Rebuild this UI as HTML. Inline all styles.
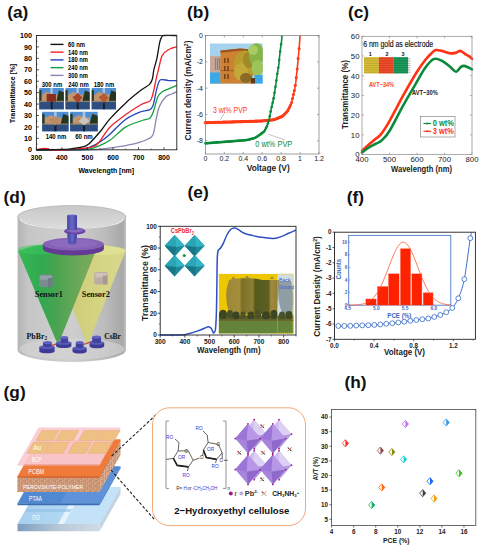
<!DOCTYPE html>
<html><head><meta charset="utf-8"><style>
html,body{margin:0;padding:0;background:#fff;width:480px;height:550px;overflow:hidden;}
svg{display:block;font-family:"Liberation Sans",sans-serif;}
</style></head><body>
<svg width="480" height="550" viewBox="0 0 480 550">
<rect width="480" height="550" fill="#fff"/>
<path d="M36.40,149.80 C40.66,149.80 53.42,149.80 61.93,149.80 C70.44,149.80 81.50,149.86 87.46,149.80 C93.42,149.74 93.93,149.76 97.67,149.46 C101.42,149.15 105.29,148.60 109.93,147.97 C114.56,147.34 120.35,146.69 125.50,145.69 C130.65,144.68 136.56,143.32 140.82,141.91 C145.07,140.50 148.86,138.90 151.03,137.23 C153.20,135.55 152.94,135.07 153.84,131.85 C154.73,128.64 155.45,122.16 156.39,117.91 C157.33,113.66 157.92,109.85 159.45,106.37 C160.99,102.88 163.54,99.05 165.58,96.99 C167.62,94.94 169.84,94.92 171.71,94.02 C173.58,93.13 175.96,92.02 176.82,91.62" stroke="#8888b0" stroke-width="1.3" fill="none" stroke-linejoin="round"/>
<path d="M36.40,149.80 C42.78,149.80 66.18,149.86 74.69,149.80 C83.20,149.74 83.63,150.03 87.46,149.46 C91.29,148.89 93.93,147.90 97.67,146.37 C101.42,144.85 105.29,143.51 109.93,140.31 C114.56,137.11 120.35,130.39 125.50,127.17 C130.65,123.95 136.73,122.54 140.82,121.00 C144.90,119.45 147.84,119.70 150.01,117.91 C152.18,116.12 152.56,113.74 153.84,110.25 C155.11,106.77 156.22,100.12 157.67,96.99 C159.11,93.87 160.60,92.90 162.52,91.51 C164.43,90.12 166.77,89.66 169.16,88.65 C171.54,87.64 175.54,85.98 176.82,85.45" stroke="#12a03c" stroke-width="1.3" fill="none" stroke-linejoin="round"/>
<path d="M36.40,149.80 C42.78,149.80 66.61,149.95 74.69,149.80 C82.78,149.65 81.93,149.55 84.91,148.89 C87.89,148.22 90.01,146.98 92.57,145.80 C95.12,144.62 97.33,143.74 100.23,141.80 C103.12,139.86 105.71,137.86 109.93,134.14 C114.14,130.43 120.35,123.24 125.50,119.51 C130.65,115.78 136.86,113.34 140.82,111.74 C144.77,110.14 147.20,110.96 149.24,109.91 C151.29,108.86 151.88,108.71 153.07,105.45 C154.26,102.19 155.33,94.48 156.39,90.36 C157.45,86.25 158.43,82.55 159.45,80.76 C160.48,78.97 160.99,79.66 162.52,79.62 C164.05,79.58 166.26,80.38 168.65,80.53 C171.03,80.69 175.45,80.53 176.82,80.53" stroke="#2346b8" stroke-width="1.3" fill="none" stroke-linejoin="round"/>
<path d="M36.40,149.80 C37.25,149.61 39.59,148.85 41.51,148.66 C43.42,148.47 46.40,148.47 47.89,148.66 C49.38,148.85 47.25,149.61 50.44,149.80 C53.63,149.99 62.14,149.99 67.04,149.80 C71.93,149.61 75.38,149.21 79.80,148.66 C84.23,148.10 90.18,147.82 93.59,146.49 C96.99,145.15 97.50,143.88 100.23,140.66 C102.95,137.44 105.71,131.47 109.93,127.17 C114.14,122.86 120.35,118.56 125.50,114.82 C130.65,111.09 136.73,107.09 140.82,104.77 C144.90,102.44 147.97,102.80 150.01,100.88 C152.05,98.96 152.01,97.07 153.07,93.22 C154.14,89.37 155.50,81.70 156.39,77.79 C157.28,73.89 157.45,73.52 158.43,69.79 C159.41,66.06 160.43,58.82 162.26,55.39 C164.09,51.96 166.99,50.66 169.41,49.22 C171.84,47.77 175.58,47.12 176.82,46.70" stroke="#f0202a" stroke-width="1.3" fill="none" stroke-linejoin="round"/>
<path d="M36.40,149.80 C40.66,149.74 55.97,149.65 61.93,149.46 C67.89,149.27 68.74,149.08 72.14,148.66 C75.55,148.24 79.59,147.70 82.35,146.94 C85.12,146.18 85.76,146.66 88.74,144.09 C91.72,141.51 96.69,135.70 100.23,131.51 C103.76,127.32 105.71,123.66 109.93,118.94 C114.14,114.21 120.35,107.93 125.50,103.17 C130.65,98.40 136.86,93.45 140.82,90.36 C144.77,87.28 147.33,86.50 149.24,84.65 C151.16,82.80 151.54,81.75 152.31,79.28 C153.07,76.80 153.07,73.28 153.84,69.79 C154.60,66.30 155.92,62.93 156.90,58.36 C157.88,53.79 158.86,46.02 159.71,42.36 C160.56,38.70 161.28,37.56 162.01,36.41 C162.73,35.27 161.58,35.65 164.05,35.50 C166.52,35.35 174.69,35.50 176.82,35.50" stroke="#111111" stroke-width="1.3" fill="none" stroke-linejoin="round"/>
<rect x="36.40" y="35.50" width="140.40" height="114.30" fill="none" stroke="#222" stroke-width="0.9" />
<line x1="36.40" y1="149.80" x2="38.90" y2="149.80" stroke="#222" stroke-width="0.8" />
<text x="32.10" y="152.40" font-size="7.2" font-weight="bold" fill="#000" text-anchor="end" font-family="Liberation Sans" >0</text>
<line x1="36.40" y1="138.37" x2="38.90" y2="138.37" stroke="#222" stroke-width="0.8" />
<text x="32.10" y="140.97" font-size="7.2" font-weight="bold" fill="#000" text-anchor="end" font-family="Liberation Sans" >10</text>
<line x1="36.40" y1="126.94" x2="38.90" y2="126.94" stroke="#222" stroke-width="0.8" />
<text x="32.10" y="129.54" font-size="7.2" font-weight="bold" fill="#000" text-anchor="end" font-family="Liberation Sans" >20</text>
<line x1="36.40" y1="115.51" x2="38.90" y2="115.51" stroke="#222" stroke-width="0.8" />
<text x="32.10" y="118.11" font-size="7.2" font-weight="bold" fill="#000" text-anchor="end" font-family="Liberation Sans" >30</text>
<line x1="36.40" y1="104.08" x2="38.90" y2="104.08" stroke="#222" stroke-width="0.8" />
<text x="32.10" y="106.68" font-size="7.2" font-weight="bold" fill="#000" text-anchor="end" font-family="Liberation Sans" >40</text>
<line x1="36.40" y1="92.65" x2="38.90" y2="92.65" stroke="#222" stroke-width="0.8" />
<text x="32.10" y="95.25" font-size="7.2" font-weight="bold" fill="#000" text-anchor="end" font-family="Liberation Sans" >50</text>
<line x1="36.40" y1="81.22" x2="38.90" y2="81.22" stroke="#222" stroke-width="0.8" />
<text x="32.10" y="83.82" font-size="7.2" font-weight="bold" fill="#000" text-anchor="end" font-family="Liberation Sans" >60</text>
<line x1="36.40" y1="69.79" x2="38.90" y2="69.79" stroke="#222" stroke-width="0.8" />
<text x="32.10" y="72.39" font-size="7.2" font-weight="bold" fill="#000" text-anchor="end" font-family="Liberation Sans" >70</text>
<line x1="36.40" y1="58.36" x2="38.90" y2="58.36" stroke="#222" stroke-width="0.8" />
<text x="32.10" y="60.96" font-size="7.2" font-weight="bold" fill="#000" text-anchor="end" font-family="Liberation Sans" >80</text>
<line x1="36.40" y1="46.93" x2="38.90" y2="46.93" stroke="#222" stroke-width="0.8" />
<text x="32.10" y="49.53" font-size="7.2" font-weight="bold" fill="#000" text-anchor="end" font-family="Liberation Sans" >90</text>
<line x1="36.40" y1="35.50" x2="38.90" y2="35.50" stroke="#222" stroke-width="0.8" />
<text x="32.10" y="38.10" font-size="7.2" font-weight="bold" fill="#000" text-anchor="end" font-family="Liberation Sans" >100</text>
<line x1="36.40" y1="144.09" x2="37.70" y2="144.09" stroke="#222" stroke-width="0.6" />
<line x1="36.40" y1="132.66" x2="37.70" y2="132.66" stroke="#222" stroke-width="0.6" />
<line x1="36.40" y1="121.23" x2="37.70" y2="121.23" stroke="#222" stroke-width="0.6" />
<line x1="36.40" y1="109.80" x2="37.70" y2="109.80" stroke="#222" stroke-width="0.6" />
<line x1="36.40" y1="98.37" x2="37.70" y2="98.37" stroke="#222" stroke-width="0.6" />
<line x1="36.40" y1="86.94" x2="37.70" y2="86.94" stroke="#222" stroke-width="0.6" />
<line x1="36.40" y1="75.50" x2="37.70" y2="75.50" stroke="#222" stroke-width="0.6" />
<line x1="36.40" y1="64.08" x2="37.70" y2="64.08" stroke="#222" stroke-width="0.6" />
<line x1="36.40" y1="52.64" x2="37.70" y2="52.64" stroke="#222" stroke-width="0.6" />
<line x1="36.40" y1="41.21" x2="37.70" y2="41.21" stroke="#222" stroke-width="0.6" />
<line x1="36.40" y1="149.80" x2="36.40" y2="147.30" stroke="#222" stroke-width="0.8" />
<text x="36.40" y="159.80" font-size="7" font-weight="bold" fill="#000" text-anchor="middle" font-family="Liberation Sans" >300</text>
<line x1="61.93" y1="149.80" x2="61.93" y2="147.30" stroke="#222" stroke-width="0.8" />
<text x="61.93" y="159.80" font-size="7" font-weight="bold" fill="#000" text-anchor="middle" font-family="Liberation Sans" >400</text>
<line x1="87.46" y1="149.80" x2="87.46" y2="147.30" stroke="#222" stroke-width="0.8" />
<text x="87.46" y="159.80" font-size="7" font-weight="bold" fill="#000" text-anchor="middle" font-family="Liberation Sans" >500</text>
<line x1="112.99" y1="149.80" x2="112.99" y2="147.30" stroke="#222" stroke-width="0.8" />
<text x="112.99" y="159.80" font-size="7" font-weight="bold" fill="#000" text-anchor="middle" font-family="Liberation Sans" >600</text>
<line x1="138.52" y1="149.80" x2="138.52" y2="147.30" stroke="#222" stroke-width="0.8" />
<text x="138.52" y="159.80" font-size="7" font-weight="bold" fill="#000" text-anchor="middle" font-family="Liberation Sans" >700</text>
<line x1="164.05" y1="149.80" x2="164.05" y2="147.30" stroke="#222" stroke-width="0.8" />
<text x="164.05" y="159.80" font-size="7" font-weight="bold" fill="#000" text-anchor="middle" font-family="Liberation Sans" >800</text>
<line x1="49.16" y1="149.80" x2="49.16" y2="148.50" stroke="#222" stroke-width="0.6" />
<line x1="74.69" y1="149.80" x2="74.69" y2="148.50" stroke="#222" stroke-width="0.6" />
<line x1="100.23" y1="149.80" x2="100.23" y2="148.50" stroke="#222" stroke-width="0.6" />
<line x1="125.75" y1="149.80" x2="125.75" y2="148.50" stroke="#222" stroke-width="0.6" />
<line x1="151.28" y1="149.80" x2="151.28" y2="148.50" stroke="#222" stroke-width="0.6" />
<line x1="176.82" y1="149.80" x2="176.82" y2="148.50" stroke="#222" stroke-width="0.6" />
<text x="106.35" y="172.90" font-size="7.6" font-weight="bold" fill="#000" text-anchor="middle" font-family="Liberation Sans" textLength="55.5" lengthAdjust="spacingAndGlyphs">Wavelength [nm]</text>
<text x="0.00" y="0.00" font-size="7.6" font-weight="bold" fill="#000" text-anchor="middle" font-family="Liberation Sans" transform="translate(15.2,93.4) rotate(-90)" textLength="59" lengthAdjust="spacingAndGlyphs">Transmittance [%]</text>
<line x1="50.50" y1="44.40" x2="63.50" y2="44.40" stroke="#111" stroke-width="1.4" />
<text x="68.00" y="46.80" font-size="6.9" font-weight="bold" fill="#000" text-anchor="start" font-family="Liberation Sans" textLength="17" lengthAdjust="spacingAndGlyphs">60 nm</text>
<line x1="50.50" y1="52.15" x2="63.50" y2="52.15" stroke="#f0202a" stroke-width="1.4" />
<text x="68.00" y="54.55" font-size="6.9" font-weight="bold" fill="#000" text-anchor="start" font-family="Liberation Sans" textLength="20" lengthAdjust="spacingAndGlyphs">140 nm</text>
<line x1="50.50" y1="59.90" x2="63.50" y2="59.90" stroke="#2346b8" stroke-width="1.4" />
<text x="68.00" y="62.30" font-size="6.9" font-weight="bold" fill="#000" text-anchor="start" font-family="Liberation Sans" textLength="20" lengthAdjust="spacingAndGlyphs">180 nm</text>
<line x1="50.50" y1="67.65" x2="63.50" y2="67.65" stroke="#12a03c" stroke-width="1.4" />
<text x="68.00" y="70.05" font-size="6.9" font-weight="bold" fill="#000" text-anchor="start" font-family="Liberation Sans" textLength="20" lengthAdjust="spacingAndGlyphs">240 nm</text>
<line x1="50.50" y1="75.40" x2="63.50" y2="75.40" stroke="#8888b0" stroke-width="1.4" />
<text x="68.00" y="77.80" font-size="6.9" font-weight="bold" fill="#000" text-anchor="start" font-family="Liberation Sans" textLength="20" lengthAdjust="spacingAndGlyphs">300 nm</text>
<g>
<rect x="39.30" y="88.00" width="24.50" height="21.30" fill="#4f8fd6" stroke="none" stroke-width="1" />
<rect x="39.30" y="101.21" width="24.50" height="8.09" fill="#2d4e80" stroke="none" stroke-width="1" />
<polygon points="41.3,101.6 41.3,95.5 46.6,91.8 52.8,94.4 56.9,94.4 56.9,101.6" fill="#c4956c"/>
<rect x="46.65" y="96.09" width="4.90" height="2.13" fill="#a87650" stroke="none" stroke-width="1" />
<rect x="39.30" y="90.13" width="2.21" height="11.72" fill="#2a3a22" stroke="none" stroke-width="1" />
<polygon points="56.4,101.6 58.9,90.6 63.8,92.3 63.8,101.6" fill="#26361e"/>
<rect x="39.30" y="100.78" width="24.50" height="1.28" fill="#8c8470" stroke="none" stroke-width="1" />
<rect x="50.32" y="88.00" width="2.45" height="9.59" fill="#c8d4e0" stroke="none" stroke-width="1" opacity="0.75"/>
<rect x="50.81" y="98.65" width="1.72" height="10.65" fill="#1a1a1a" stroke="none" stroke-width="1" />
<rect x="46.65" y="93.96" width="9.31" height="7.67" fill="#8a2e20" stroke="none" stroke-width="1" />
</g>
<g>
<rect x="65.50" y="88.00" width="24.20" height="21.30" fill="#4f8fd6" stroke="none" stroke-width="1" />
<rect x="65.50" y="101.21" width="24.20" height="8.09" fill="#2d4e80" stroke="none" stroke-width="1" />
<polygon points="67.4,101.6 67.4,95.5 72.8,91.8 78.8,94.4 82.9,94.4 82.9,101.6" fill="#c4956c"/>
<rect x="72.76" y="96.09" width="4.84" height="2.13" fill="#a87650" stroke="none" stroke-width="1" />
<rect x="65.50" y="90.13" width="2.18" height="11.72" fill="#2a3a22" stroke="none" stroke-width="1" />
<polygon points="82.4,101.6 84.9,90.6 89.7,92.3 89.7,101.6" fill="#26361e"/>
<rect x="65.50" y="100.78" width="24.20" height="1.28" fill="#8c8470" stroke="none" stroke-width="1" />
<rect x="76.39" y="88.00" width="2.42" height="9.59" fill="#c8d4e0" stroke="none" stroke-width="1" opacity="0.75"/>
<rect x="76.87" y="98.65" width="1.69" height="10.65" fill="#1a1a1a" stroke="none" stroke-width="1" />
<polygon points="77.6,92.7 82.4,97.8 77.6,102.9 72.8,97.8" fill="#a8442a"/>
</g>
<g>
<rect x="91.70" y="88.00" width="24.30" height="21.30" fill="#4f8fd6" stroke="none" stroke-width="1" />
<rect x="91.70" y="101.21" width="24.30" height="8.09" fill="#2d4e80" stroke="none" stroke-width="1" />
<polygon points="93.6,101.6 93.6,95.5 99.0,91.8 105.1,94.4 109.2,94.4 109.2,101.6" fill="#c4956c"/>
<rect x="98.99" y="96.09" width="4.86" height="2.13" fill="#a87650" stroke="none" stroke-width="1" />
<rect x="91.70" y="90.13" width="2.19" height="11.72" fill="#2a3a22" stroke="none" stroke-width="1" />
<polygon points="108.7,101.6 111.1,90.6 116.0,92.3 116.0,101.6" fill="#26361e"/>
<rect x="91.70" y="100.78" width="24.30" height="1.28" fill="#8c8470" stroke="none" stroke-width="1" />
<rect x="102.64" y="88.00" width="2.43" height="9.59" fill="#c8d4e0" stroke="none" stroke-width="1" opacity="0.75"/>
<rect x="103.12" y="98.65" width="1.70" height="10.65" fill="#1a1a1a" stroke="none" stroke-width="1" />
<polygon points="103.9,92.7 108.7,97.8 103.9,102.9 99.0,97.8" fill="#b85a30"/>
</g>
<g>
<rect x="42.20" y="111.80" width="26.30" height="19.50" fill="#4f8fd6" stroke="none" stroke-width="1" />
<rect x="42.20" y="123.89" width="26.30" height="7.41" fill="#2d4e80" stroke="none" stroke-width="1" />
<polygon points="44.3,124.3 44.3,118.6 50.1,115.3 56.7,117.6 61.1,117.6 61.1,124.3" fill="#c4956c"/>
<rect x="50.09" y="119.21" width="5.26" height="1.95" fill="#a87650" stroke="none" stroke-width="1" />
<rect x="42.20" y="113.75" width="2.37" height="10.73" fill="#2a3a22" stroke="none" stroke-width="1" />
<polygon points="60.6,124.3 63.2,114.1 68.5,115.7 68.5,124.3" fill="#26361e"/>
<rect x="42.20" y="123.50" width="26.30" height="1.17" fill="#8c8470" stroke="none" stroke-width="1" />
<rect x="54.04" y="111.80" width="2.63" height="8.78" fill="#c8d4e0" stroke="none" stroke-width="1" opacity="0.75"/>
<rect x="54.56" y="121.55" width="1.84" height="9.75" fill="#1a1a1a" stroke="none" stroke-width="1" />
<polygon points="55.4,116.1 60.6,120.8 55.4,125.4 50.1,120.8" fill="#b88a68"/>
</g>
<g>
<rect x="70.20" y="111.80" width="27.50" height="19.50" fill="#4f8fd6" stroke="none" stroke-width="1" />
<rect x="70.20" y="123.89" width="27.50" height="7.41" fill="#2d4e80" stroke="none" stroke-width="1" />
<polygon points="72.4,124.3 72.4,118.6 78.5,115.3 85.3,117.6 90.0,117.6 90.0,124.3" fill="#c4956c"/>
<rect x="78.45" y="119.21" width="5.50" height="1.95" fill="#a87650" stroke="none" stroke-width="1" />
<rect x="70.20" y="113.75" width="2.48" height="10.73" fill="#2a3a22" stroke="none" stroke-width="1" />
<polygon points="89.5,124.3 92.2,114.1 97.7,115.7 97.7,124.3" fill="#26361e"/>
<rect x="70.20" y="123.50" width="27.50" height="1.17" fill="#8c8470" stroke="none" stroke-width="1" />
<rect x="82.58" y="111.80" width="2.75" height="8.78" fill="#c8d4e0" stroke="none" stroke-width="1" opacity="0.75"/>
<rect x="83.12" y="121.55" width="1.93" height="9.75" fill="#1a1a1a" stroke="none" stroke-width="1" />
<polygon points="84.0,116.1 89.5,120.8 84.0,125.4 78.5,120.8" fill="#c8c4c0"/>
</g>
<text x="52.00" y="86.50" font-size="7" font-weight="bold" fill="#000" text-anchor="middle" font-family="Liberation Sans" textLength="20.5" lengthAdjust="spacingAndGlyphs">300 nm</text>
<text x="78.50" y="86.50" font-size="7" font-weight="bold" fill="#000" text-anchor="middle" font-family="Liberation Sans" textLength="20.5" lengthAdjust="spacingAndGlyphs">240 nm</text>
<text x="104.00" y="86.50" font-size="7" font-weight="bold" fill="#000" text-anchor="middle" font-family="Liberation Sans" textLength="20.5" lengthAdjust="spacingAndGlyphs">180 nm</text>
<text x="56.00" y="138.50" font-size="7" font-weight="bold" fill="#000" text-anchor="middle" font-family="Liberation Sans" textLength="20.5" lengthAdjust="spacingAndGlyphs">140 nm</text>
<text x="84.00" y="138.50" font-size="7" font-weight="bold" fill="#000" text-anchor="middle" font-family="Liberation Sans" textLength="17.5" lengthAdjust="spacingAndGlyphs">60 nm</text>
<text x="7.25" y="17.60" font-size="17.3" font-weight="bold" fill="#111" text-anchor="start" font-family="Liberation Sans" >(a)</text>
<defs><clipPath id="clipb"><rect x="210" y="43.3" width="52.8" height="40.4"/></clipPath></defs>
<g clip-path="url(#clipb)">
<rect x="210.00" y="43.30" width="52.80" height="40.40" fill="#a6d2f0" stroke="none" stroke-width="1" />
<rect x="210.00" y="56.00" width="11.50" height="27.70" fill="#c6a898" stroke="none" stroke-width="1" />
<rect x="215.00" y="58.00" width="1.20" height="12.00" fill="#8a7c82" stroke="none" stroke-width="1" />
<rect x="217.00" y="58.00" width="1.20" height="12.00" fill="#8a7c82" stroke="none" stroke-width="1" />
<rect x="219.00" y="58.00" width="1.20" height="12.00" fill="#8a7c82" stroke="none" stroke-width="1" />
<rect x="210.00" y="72.50" width="10.50" height="11.20" fill="#3ea8e6" stroke="none" stroke-width="1" />
<polygon points="220.5,50.5 240,48.5 252,49.5 252,83.7 220.5,83.7" fill="#cc8232"/>
<polygon points="220.5,50.5 240,48.5 252,49.5 252,51.8 240,50.8 220.5,52.8" fill="#9a5420"/>
<rect x="220.50" y="70.00" width="31.50" height="1.20" fill="#a86428" stroke="none" stroke-width="1" />
<rect x="224.00" y="58.00" width="1.60" height="5.00" fill="#7a4418" stroke="none" stroke-width="1" />
<rect x="224.00" y="66.00" width="1.60" height="5.00" fill="#7a4418" stroke="none" stroke-width="1" />
<rect x="224.00" y="74.00" width="1.60" height="5.00" fill="#7a4418" stroke="none" stroke-width="1" />
<rect x="227.20" y="58.00" width="1.60" height="5.00" fill="#7a4418" stroke="none" stroke-width="1" />
<rect x="227.20" y="66.00" width="1.60" height="5.00" fill="#7a4418" stroke="none" stroke-width="1" />
<rect x="227.20" y="74.00" width="1.60" height="5.00" fill="#7a4418" stroke="none" stroke-width="1" />
<ellipse cx="244.5" cy="66" rx="11" ry="15.5" fill="#b89c2c"/>
<ellipse cx="241" cy="72" rx="7" ry="9" fill="#c4a838"/>
<ellipse cx="249" cy="60" rx="6" ry="8" fill="#a08a28"/>
<ellipse cx="246" cy="78" rx="6" ry="5" fill="#8a6a28"/>
<ellipse cx="256.5" cy="55" rx="7.5" ry="12" fill="#86b446"/>
<ellipse cx="257.5" cy="68" rx="6" ry="8" fill="#9cc45a"/>
<ellipse cx="253" cy="50" rx="5" ry="5" fill="#a8cc64"/>
<rect x="254.50" y="75.00" width="8.30" height="8.70" fill="#3ea8e6" stroke="none" stroke-width="1" />
<rect x="251.00" y="78.00" width="4.00" height="5.70" fill="#5a3a20" stroke="none" stroke-width="1" />
</g>
<path d="M205.40,122.66 C208.56,122.58 217.39,122.33 224.33,122.14 C231.28,121.94 240.90,121.68 247.05,121.48 C253.21,121.28 256.80,121.24 261.25,120.95 C265.70,120.67 270.22,120.56 273.75,119.77 C277.28,118.98 280.17,117.64 282.46,116.21 C284.75,114.79 286.01,113.29 287.48,111.21 C288.94,109.12 290.33,106.20 291.26,103.70 C292.19,101.20 292.54,98.39 293.06,96.20 C293.58,94.00 293.96,92.62 294.39,90.54 C294.81,88.45 295.30,85.84 295.62,83.69 C295.93,81.54 296.01,80.09 296.28,77.63 C296.55,75.18 296.91,72.13 297.23,68.94 C297.54,65.76 297.86,61.92 298.17,58.54 C298.49,55.16 298.80,52.51 299.12,48.67 C299.44,44.83 299.91,37.69 300.07,35.50" stroke="#ff3b1a" stroke-width="1.6" fill="none" />
<circle cx="205.40" cy="122.66" r="1.55" fill="#ff3b1a"/>
<circle cx="206.35" cy="122.64" r="1.55" fill="#ff3b1a"/>
<circle cx="207.29" cy="122.61" r="1.55" fill="#ff3b1a"/>
<circle cx="208.24" cy="122.58" r="1.55" fill="#ff3b1a"/>
<circle cx="209.19" cy="122.56" r="1.55" fill="#ff3b1a"/>
<circle cx="210.13" cy="122.53" r="1.55" fill="#ff3b1a"/>
<circle cx="211.08" cy="122.51" r="1.55" fill="#ff3b1a"/>
<circle cx="212.03" cy="122.48" r="1.55" fill="#ff3b1a"/>
<circle cx="212.97" cy="122.45" r="1.55" fill="#ff3b1a"/>
<circle cx="213.92" cy="122.43" r="1.55" fill="#ff3b1a"/>
<circle cx="214.87" cy="122.40" r="1.55" fill="#ff3b1a"/>
<circle cx="215.81" cy="122.37" r="1.55" fill="#ff3b1a"/>
<circle cx="216.76" cy="122.35" r="1.55" fill="#ff3b1a"/>
<circle cx="217.71" cy="122.32" r="1.55" fill="#ff3b1a"/>
<circle cx="218.65" cy="122.29" r="1.55" fill="#ff3b1a"/>
<circle cx="219.60" cy="122.27" r="1.55" fill="#ff3b1a"/>
<circle cx="220.55" cy="122.24" r="1.55" fill="#ff3b1a"/>
<circle cx="221.49" cy="122.22" r="1.55" fill="#ff3b1a"/>
<circle cx="222.44" cy="122.19" r="1.55" fill="#ff3b1a"/>
<circle cx="223.39" cy="122.16" r="1.55" fill="#ff3b1a"/>
<circle cx="224.33" cy="122.14" r="1.55" fill="#ff3b1a"/>
<circle cx="225.28" cy="122.11" r="1.55" fill="#ff3b1a"/>
<circle cx="226.23" cy="122.08" r="1.55" fill="#ff3b1a"/>
<circle cx="227.17" cy="122.05" r="1.55" fill="#ff3b1a"/>
<circle cx="228.12" cy="122.03" r="1.55" fill="#ff3b1a"/>
<circle cx="229.07" cy="122.00" r="1.55" fill="#ff3b1a"/>
<circle cx="230.01" cy="121.97" r="1.55" fill="#ff3b1a"/>
<circle cx="230.96" cy="121.94" r="1.55" fill="#ff3b1a"/>
<circle cx="231.91" cy="121.92" r="1.55" fill="#ff3b1a"/>
<circle cx="232.85" cy="121.89" r="1.55" fill="#ff3b1a"/>
<circle cx="233.80" cy="121.86" r="1.55" fill="#ff3b1a"/>
<circle cx="234.75" cy="121.83" r="1.55" fill="#ff3b1a"/>
<circle cx="235.69" cy="121.81" r="1.55" fill="#ff3b1a"/>
<circle cx="236.64" cy="121.78" r="1.55" fill="#ff3b1a"/>
<circle cx="237.59" cy="121.75" r="1.55" fill="#ff3b1a"/>
<circle cx="238.53" cy="121.73" r="1.55" fill="#ff3b1a"/>
<circle cx="239.48" cy="121.70" r="1.55" fill="#ff3b1a"/>
<circle cx="240.43" cy="121.67" r="1.55" fill="#ff3b1a"/>
<circle cx="241.37" cy="121.64" r="1.55" fill="#ff3b1a"/>
<circle cx="242.32" cy="121.62" r="1.55" fill="#ff3b1a"/>
<circle cx="243.27" cy="121.59" r="1.55" fill="#ff3b1a"/>
<circle cx="244.21" cy="121.56" r="1.55" fill="#ff3b1a"/>
<circle cx="245.16" cy="121.53" r="1.55" fill="#ff3b1a"/>
<circle cx="246.11" cy="121.51" r="1.55" fill="#ff3b1a"/>
<circle cx="247.05" cy="121.48" r="1.55" fill="#ff3b1a"/>
<circle cx="248.00" cy="121.44" r="1.55" fill="#ff3b1a"/>
<circle cx="248.95" cy="121.41" r="1.55" fill="#ff3b1a"/>
<circle cx="249.89" cy="121.37" r="1.55" fill="#ff3b1a"/>
<circle cx="250.84" cy="121.34" r="1.55" fill="#ff3b1a"/>
<circle cx="251.79" cy="121.30" r="1.55" fill="#ff3b1a"/>
<circle cx="252.73" cy="121.27" r="1.55" fill="#ff3b1a"/>
<circle cx="253.68" cy="121.23" r="1.55" fill="#ff3b1a"/>
<circle cx="254.63" cy="121.20" r="1.55" fill="#ff3b1a"/>
<circle cx="255.57" cy="121.16" r="1.55" fill="#ff3b1a"/>
<circle cx="256.52" cy="121.13" r="1.55" fill="#ff3b1a"/>
<circle cx="257.47" cy="121.09" r="1.55" fill="#ff3b1a"/>
<circle cx="258.41" cy="121.06" r="1.55" fill="#ff3b1a"/>
<circle cx="259.36" cy="121.02" r="1.55" fill="#ff3b1a"/>
<circle cx="260.31" cy="120.99" r="1.55" fill="#ff3b1a"/>
<circle cx="261.25" cy="120.95" r="1.55" fill="#ff3b1a"/>
<circle cx="262.20" cy="120.86" r="1.55" fill="#ff3b1a"/>
<circle cx="263.15" cy="120.77" r="1.55" fill="#ff3b1a"/>
<circle cx="264.09" cy="120.68" r="1.55" fill="#ff3b1a"/>
<circle cx="265.04" cy="120.59" r="1.55" fill="#ff3b1a"/>
<circle cx="265.99" cy="120.50" r="1.55" fill="#ff3b1a"/>
<circle cx="266.93" cy="120.41" r="1.55" fill="#ff3b1a"/>
<circle cx="267.88" cy="120.32" r="1.55" fill="#ff3b1a"/>
<circle cx="268.83" cy="120.23" r="1.55" fill="#ff3b1a"/>
<circle cx="269.77" cy="120.14" r="1.55" fill="#ff3b1a"/>
<circle cx="270.72" cy="120.05" r="1.55" fill="#ff3b1a"/>
<circle cx="271.67" cy="119.96" r="1.55" fill="#ff3b1a"/>
<circle cx="272.61" cy="119.87" r="1.55" fill="#ff3b1a"/>
<circle cx="273.56" cy="119.78" r="1.55" fill="#ff3b1a"/>
<circle cx="274.51" cy="119.46" r="1.55" fill="#ff3b1a"/>
<circle cx="275.45" cy="119.07" r="1.55" fill="#ff3b1a"/>
<circle cx="276.40" cy="118.68" r="1.55" fill="#ff3b1a"/>
<circle cx="277.35" cy="118.30" r="1.55" fill="#ff3b1a"/>
<circle cx="278.29" cy="117.91" r="1.55" fill="#ff3b1a"/>
<circle cx="279.24" cy="117.53" r="1.55" fill="#ff3b1a"/>
<circle cx="280.19" cy="117.14" r="1.55" fill="#ff3b1a"/>
<circle cx="281.13" cy="116.75" r="1.55" fill="#ff3b1a"/>
<circle cx="282.08" cy="116.37" r="1.55" fill="#ff3b1a"/>
<circle cx="283.03" cy="115.65" r="1.55" fill="#ff3b1a"/>
<circle cx="283.97" cy="114.70" r="1.55" fill="#ff3b1a"/>
<circle cx="284.92" cy="113.76" r="1.55" fill="#ff3b1a"/>
<circle cx="285.87" cy="112.81" r="1.55" fill="#ff3b1a"/>
<circle cx="286.81" cy="111.87" r="1.55" fill="#ff3b1a"/>
<circle cx="287.76" cy="110.65" r="1.55" fill="#ff3b1a"/>
<circle cx="288.71" cy="108.77" r="1.55" fill="#ff3b1a"/>
<circle cx="289.65" cy="106.89" r="1.55" fill="#ff3b1a"/>
<circle cx="290.60" cy="105.02" r="1.55" fill="#ff3b1a"/>
<circle cx="291.55" cy="102.52" r="1.55" fill="#ff3b1a"/>
<circle cx="292.49" cy="98.57" r="1.55" fill="#ff3b1a"/>
<circle cx="293.44" cy="94.58" r="1.55" fill="#ff3b1a"/>
<circle cx="294.39" cy="90.54" r="1.55" fill="#ff3b1a"/>
<circle cx="295.33" cy="85.27" r="1.55" fill="#ff3b1a"/>
<circle cx="296.28" cy="77.63" r="1.55" fill="#ff3b1a"/>
<circle cx="297.23" cy="68.94" r="1.55" fill="#ff3b1a"/>
<circle cx="298.17" cy="58.54" r="1.55" fill="#ff3b1a"/>
<circle cx="299.12" cy="48.67" r="1.55" fill="#ff3b1a"/>
<path d="M205.40,143.33 C208.56,143.09 217.39,142.44 224.33,141.89 C231.28,141.34 242.00,140.68 247.05,140.04 C252.10,139.41 252.67,138.81 254.63,138.07 C256.58,137.32 257.17,136.71 258.79,135.57 C260.42,134.43 263.02,132.78 264.38,131.22 C265.73,129.66 266.16,128.08 266.93,126.22 C267.71,124.35 268.29,122.95 269.02,120.03 C269.74,117.11 270.50,112.46 271.29,108.71 C272.08,104.95 273.02,101.38 273.75,97.52 C274.48,93.65 275.19,88.45 275.64,85.53 C276.10,82.61 276.19,82.09 276.49,80.00 C276.79,77.92 277.06,75.53 277.44,73.03 C277.82,70.52 278.42,67.67 278.77,64.99 C279.11,62.32 279.24,59.62 279.52,56.96 C279.81,54.31 280.14,51.65 280.47,49.06 C280.80,46.47 281.24,43.69 281.51,41.42 C281.78,39.16 281.99,36.49 282.08,35.50" stroke="#0a8a3a" stroke-width="1.6" fill="none" />
<circle cx="205.40" cy="143.33" r="1.3" fill="#0a8a3a"/>
<circle cx="206.35" cy="143.26" r="1.3" fill="#0a8a3a"/>
<circle cx="207.29" cy="143.19" r="1.3" fill="#0a8a3a"/>
<circle cx="208.24" cy="143.12" r="1.3" fill="#0a8a3a"/>
<circle cx="209.19" cy="143.05" r="1.3" fill="#0a8a3a"/>
<circle cx="210.13" cy="142.97" r="1.3" fill="#0a8a3a"/>
<circle cx="211.08" cy="142.90" r="1.3" fill="#0a8a3a"/>
<circle cx="212.03" cy="142.83" r="1.3" fill="#0a8a3a"/>
<circle cx="212.97" cy="142.76" r="1.3" fill="#0a8a3a"/>
<circle cx="213.92" cy="142.68" r="1.3" fill="#0a8a3a"/>
<circle cx="214.87" cy="142.61" r="1.3" fill="#0a8a3a"/>
<circle cx="215.81" cy="142.54" r="1.3" fill="#0a8a3a"/>
<circle cx="216.76" cy="142.47" r="1.3" fill="#0a8a3a"/>
<circle cx="217.71" cy="142.39" r="1.3" fill="#0a8a3a"/>
<circle cx="218.65" cy="142.32" r="1.3" fill="#0a8a3a"/>
<circle cx="219.60" cy="142.25" r="1.3" fill="#0a8a3a"/>
<circle cx="220.55" cy="142.18" r="1.3" fill="#0a8a3a"/>
<circle cx="221.49" cy="142.10" r="1.3" fill="#0a8a3a"/>
<circle cx="222.44" cy="142.03" r="1.3" fill="#0a8a3a"/>
<circle cx="223.39" cy="141.96" r="1.3" fill="#0a8a3a"/>
<circle cx="224.33" cy="141.89" r="1.3" fill="#0a8a3a"/>
<circle cx="225.28" cy="141.81" r="1.3" fill="#0a8a3a"/>
<circle cx="226.23" cy="141.73" r="1.3" fill="#0a8a3a"/>
<circle cx="227.17" cy="141.66" r="1.3" fill="#0a8a3a"/>
<circle cx="228.12" cy="141.58" r="1.3" fill="#0a8a3a"/>
<circle cx="229.07" cy="141.50" r="1.3" fill="#0a8a3a"/>
<circle cx="230.01" cy="141.43" r="1.3" fill="#0a8a3a"/>
<circle cx="230.96" cy="141.35" r="1.3" fill="#0a8a3a"/>
<circle cx="231.91" cy="141.27" r="1.3" fill="#0a8a3a"/>
<circle cx="232.85" cy="141.20" r="1.3" fill="#0a8a3a"/>
<circle cx="233.80" cy="141.12" r="1.3" fill="#0a8a3a"/>
<circle cx="234.75" cy="141.04" r="1.3" fill="#0a8a3a"/>
<circle cx="235.69" cy="140.96" r="1.3" fill="#0a8a3a"/>
<circle cx="236.64" cy="140.89" r="1.3" fill="#0a8a3a"/>
<circle cx="237.59" cy="140.81" r="1.3" fill="#0a8a3a"/>
<circle cx="238.53" cy="140.73" r="1.3" fill="#0a8a3a"/>
<circle cx="239.48" cy="140.66" r="1.3" fill="#0a8a3a"/>
<circle cx="240.43" cy="140.58" r="1.3" fill="#0a8a3a"/>
<circle cx="241.37" cy="140.50" r="1.3" fill="#0a8a3a"/>
<circle cx="242.32" cy="140.43" r="1.3" fill="#0a8a3a"/>
<circle cx="243.27" cy="140.35" r="1.3" fill="#0a8a3a"/>
<circle cx="244.21" cy="140.27" r="1.3" fill="#0a8a3a"/>
<circle cx="245.16" cy="140.20" r="1.3" fill="#0a8a3a"/>
<circle cx="246.11" cy="140.12" r="1.3" fill="#0a8a3a"/>
<circle cx="247.05" cy="140.04" r="1.3" fill="#0a8a3a"/>
<circle cx="248.00" cy="139.80" r="1.3" fill="#0a8a3a"/>
<circle cx="248.95" cy="139.55" r="1.3" fill="#0a8a3a"/>
<circle cx="249.89" cy="139.30" r="1.3" fill="#0a8a3a"/>
<circle cx="250.84" cy="139.06" r="1.3" fill="#0a8a3a"/>
<circle cx="251.79" cy="138.81" r="1.3" fill="#0a8a3a"/>
<circle cx="252.73" cy="138.56" r="1.3" fill="#0a8a3a"/>
<circle cx="253.68" cy="138.32" r="1.3" fill="#0a8a3a"/>
<circle cx="254.63" cy="138.07" r="1.3" fill="#0a8a3a"/>
<circle cx="255.57" cy="137.50" r="1.3" fill="#0a8a3a"/>
<circle cx="256.52" cy="136.93" r="1.3" fill="#0a8a3a"/>
<circle cx="257.47" cy="136.36" r="1.3" fill="#0a8a3a"/>
<circle cx="258.41" cy="135.79" r="1.3" fill="#0a8a3a"/>
<circle cx="259.36" cy="135.12" r="1.3" fill="#0a8a3a"/>
<circle cx="260.31" cy="134.39" r="1.3" fill="#0a8a3a"/>
<circle cx="261.25" cy="133.65" r="1.3" fill="#0a8a3a"/>
<circle cx="262.20" cy="132.92" r="1.3" fill="#0a8a3a"/>
<circle cx="263.15" cy="132.18" r="1.3" fill="#0a8a3a"/>
<circle cx="264.09" cy="131.44" r="1.3" fill="#0a8a3a"/>
<circle cx="265.04" cy="129.92" r="1.3" fill="#0a8a3a"/>
<circle cx="265.99" cy="128.07" r="1.3" fill="#0a8a3a"/>
<circle cx="266.93" cy="126.22" r="1.3" fill="#0a8a3a"/>
<circle cx="267.88" cy="123.41" r="1.3" fill="#0a8a3a"/>
<circle cx="268.83" cy="120.59" r="1.3" fill="#0a8a3a"/>
<circle cx="269.77" cy="116.26" r="1.3" fill="#0a8a3a"/>
<circle cx="270.72" cy="111.54" r="1.3" fill="#0a8a3a"/>
<circle cx="271.67" cy="106.98" r="1.3" fill="#0a8a3a"/>
<circle cx="272.61" cy="102.68" r="1.3" fill="#0a8a3a"/>
<circle cx="273.56" cy="98.38" r="1.3" fill="#0a8a3a"/>
<circle cx="274.51" cy="92.72" r="1.3" fill="#0a8a3a"/>
<circle cx="275.45" cy="86.73" r="1.3" fill="#0a8a3a"/>
<circle cx="276.40" cy="80.62" r="1.3" fill="#0a8a3a"/>
<circle cx="277.35" cy="73.72" r="1.3" fill="#0a8a3a"/>
<circle cx="278.29" cy="67.86" r="1.3" fill="#0a8a3a"/>
<circle cx="279.24" cy="59.97" r="1.3" fill="#0a8a3a"/>
<circle cx="280.19" cy="51.43" r="1.3" fill="#0a8a3a"/>
<circle cx="281.13" cy="44.20" r="1.3" fill="#0a8a3a"/>
<rect x="205.40" y="35.50" width="113.60" height="118.50" fill="none" stroke="#777" stroke-width="0.7" />
<line x1="205.40" y1="154.00" x2="205.40" y2="152.00" stroke="#777" stroke-width="0.6" />
<line x1="205.40" y1="35.50" x2="205.40" y2="37.50" stroke="#777" stroke-width="0.6" />
<text x="205.40" y="160.80" font-size="7" font-weight="normal" fill="#222" text-anchor="middle" font-family="Liberation Sans" >0</text>
<line x1="224.33" y1="154.00" x2="224.33" y2="152.00" stroke="#777" stroke-width="0.6" />
<line x1="224.33" y1="35.50" x2="224.33" y2="37.50" stroke="#777" stroke-width="0.6" />
<text x="224.33" y="160.80" font-size="7" font-weight="normal" fill="#222" text-anchor="middle" font-family="Liberation Sans" >0.2</text>
<line x1="243.27" y1="154.00" x2="243.27" y2="152.00" stroke="#777" stroke-width="0.6" />
<line x1="243.27" y1="35.50" x2="243.27" y2="37.50" stroke="#777" stroke-width="0.6" />
<text x="243.27" y="160.80" font-size="7" font-weight="normal" fill="#222" text-anchor="middle" font-family="Liberation Sans" >0.4</text>
<line x1="262.20" y1="154.00" x2="262.20" y2="152.00" stroke="#777" stroke-width="0.6" />
<line x1="262.20" y1="35.50" x2="262.20" y2="37.50" stroke="#777" stroke-width="0.6" />
<text x="262.20" y="160.80" font-size="7" font-weight="normal" fill="#222" text-anchor="middle" font-family="Liberation Sans" >0.6</text>
<line x1="281.13" y1="154.00" x2="281.13" y2="152.00" stroke="#777" stroke-width="0.6" />
<line x1="281.13" y1="35.50" x2="281.13" y2="37.50" stroke="#777" stroke-width="0.6" />
<text x="281.13" y="160.80" font-size="7" font-weight="normal" fill="#222" text-anchor="middle" font-family="Liberation Sans" >0.8</text>
<line x1="300.07" y1="154.00" x2="300.07" y2="152.00" stroke="#777" stroke-width="0.6" />
<line x1="300.07" y1="35.50" x2="300.07" y2="37.50" stroke="#777" stroke-width="0.6" />
<text x="300.07" y="160.80" font-size="7" font-weight="normal" fill="#222" text-anchor="middle" font-family="Liberation Sans" >1</text>
<line x1="319.00" y1="154.00" x2="319.00" y2="152.00" stroke="#777" stroke-width="0.6" />
<line x1="319.00" y1="35.50" x2="319.00" y2="37.50" stroke="#777" stroke-width="0.6" />
<text x="319.00" y="160.80" font-size="7" font-weight="normal" fill="#222" text-anchor="middle" font-family="Liberation Sans" >1.2</text>
<line x1="205.40" y1="35.50" x2="207.40" y2="35.50" stroke="#777" stroke-width="0.6" />
<line x1="319.00" y1="35.50" x2="317.00" y2="35.50" stroke="#777" stroke-width="0.6" />
<text x="202.90" y="38.00" font-size="7" font-weight="normal" fill="#222" text-anchor="end" font-family="Liberation Sans" >0</text>
<line x1="205.40" y1="61.83" x2="207.40" y2="61.83" stroke="#777" stroke-width="0.6" />
<line x1="319.00" y1="61.83" x2="317.00" y2="61.83" stroke="#777" stroke-width="0.6" />
<text x="202.90" y="64.33" font-size="7" font-weight="normal" fill="#222" text-anchor="end" font-family="Liberation Sans" >-2</text>
<line x1="205.40" y1="88.17" x2="207.40" y2="88.17" stroke="#777" stroke-width="0.6" />
<line x1="319.00" y1="88.17" x2="317.00" y2="88.17" stroke="#777" stroke-width="0.6" />
<text x="202.90" y="90.67" font-size="7" font-weight="normal" fill="#222" text-anchor="end" font-family="Liberation Sans" >-4</text>
<line x1="205.40" y1="114.50" x2="207.40" y2="114.50" stroke="#777" stroke-width="0.6" />
<line x1="319.00" y1="114.50" x2="317.00" y2="114.50" stroke="#777" stroke-width="0.6" />
<text x="202.90" y="117.00" font-size="7" font-weight="normal" fill="#222" text-anchor="end" font-family="Liberation Sans" >-6</text>
<line x1="205.40" y1="140.83" x2="207.40" y2="140.83" stroke="#777" stroke-width="0.6" />
<line x1="319.00" y1="140.83" x2="317.00" y2="140.83" stroke="#777" stroke-width="0.6" />
<text x="202.90" y="143.33" font-size="7" font-weight="normal" fill="#222" text-anchor="end" font-family="Liberation Sans" >-8</text>
<text x="268.20" y="171.40" font-size="8.6" font-weight="bold" fill="#222" text-anchor="middle" font-family="Liberation Sans" textLength="43" lengthAdjust="spacingAndGlyphs">Voltage (V)</text>
<text x="0.00" y="0.00" font-size="8.2" font-weight="bold" fill="#222" text-anchor="middle" font-family="Liberation Sans" transform="translate(191,90.5) rotate(-90)" textLength="100" lengthAdjust="spacingAndGlyphs">Current density (mA/cm<tspan font-size="5" dy="-3">2</tspan><tspan dy="3">)</tspan></text>
<text x="212.90" y="113.10" font-size="8.6" font-weight="normal" fill="#ff3b1a" text-anchor="start" font-family="Liberation Sans" textLength="34.5" lengthAdjust="spacingAndGlyphs">3 wt% PVP</text>
<line x1="224.20" y1="113.60" x2="220.00" y2="120.00" stroke="#888" stroke-width="0.5" />
<text x="255.30" y="146.90" font-size="8.6" font-weight="normal" fill="#0a8a3a" text-anchor="start" font-family="Liberation Sans" textLength="37" lengthAdjust="spacingAndGlyphs">0 wt% PVP</text>
<line x1="268.30" y1="134.20" x2="285.00" y2="140.00" stroke="#888" stroke-width="0.5" />
<text x="187.10" y="18.20" font-size="17.3" font-weight="bold" fill="#111" text-anchor="start" font-family="Liberation Sans" >(b)</text>
<path d="M362.00,150.66 C362.92,149.84 365.21,147.70 367.50,145.73 C369.79,143.76 373.46,140.80 375.75,138.83 C378.04,136.85 378.96,136.86 381.25,133.90 C383.54,130.94 385.83,127.49 389.50,121.08 C393.17,114.67 398.67,103.67 403.25,95.45 C407.83,87.23 413.33,77.71 417.00,71.79 C420.67,65.88 422.96,62.92 425.25,59.96 C427.54,57.00 429.01,55.69 430.75,54.04 C432.49,52.40 433.87,50.63 435.70,50.10 C437.53,49.58 439.37,50.36 441.75,50.89 C444.13,51.42 447.71,52.93 450.00,53.26 C452.29,53.58 453.76,53.26 455.50,52.86 C457.24,52.47 458.85,50.69 460.45,50.89 C462.05,51.09 463.66,53.12 465.12,54.04 C466.59,54.97 468.10,55.62 469.25,56.41 C470.40,57.20 471.54,58.38 472.00,58.78" stroke="#ff3314" stroke-width="2.6" fill="none" stroke-linecap="round"/>
<path d="M362.00,152.63 C362.92,151.91 365.21,149.77 367.50,148.29 C369.79,146.81 373.46,145.00 375.75,143.76 C378.04,142.51 378.96,142.93 381.25,140.80 C383.54,138.66 385.83,136.85 389.50,130.94 C393.17,125.03 398.67,113.52 403.25,105.31 C407.83,97.09 413.33,87.89 417.00,81.65 C420.67,75.40 422.50,71.59 425.25,67.85 C428.00,64.10 430.75,60.35 433.50,59.17 C436.25,57.99 439.00,59.50 441.75,60.75 C444.50,62.00 447.62,64.82 450.00,66.66 C452.38,68.50 454.22,71.76 456.05,71.79 C457.88,71.82 459.62,67.85 461.00,66.86 C462.38,65.88 462.93,65.71 464.30,65.88 C465.68,66.04 467.97,67.26 469.25,67.85 C470.53,68.44 471.54,69.16 472.00,69.42" stroke="#0b8a3c" stroke-width="2.6" fill="none" stroke-linecap="round"/>
<rect x="362.00" y="36.30" width="110.00" height="118.30" fill="none" stroke="#888" stroke-width="0.7" />
<line x1="362.00" y1="154.60" x2="364.00" y2="154.60" stroke="#888" stroke-width="0.6" />
<line x1="472.00" y1="154.60" x2="470.00" y2="154.60" stroke="#888" stroke-width="0.6" />
<text x="359.50" y="157.40" font-size="7.8" font-weight="normal" fill="#222" text-anchor="end" font-family="Liberation Sans" >0</text>
<line x1="362.00" y1="134.88" x2="364.00" y2="134.88" stroke="#888" stroke-width="0.6" />
<line x1="472.00" y1="134.88" x2="470.00" y2="134.88" stroke="#888" stroke-width="0.6" />
<text x="359.50" y="137.68" font-size="7.8" font-weight="normal" fill="#222" text-anchor="end" font-family="Liberation Sans" >10</text>
<line x1="362.00" y1="115.17" x2="364.00" y2="115.17" stroke="#888" stroke-width="0.6" />
<line x1="472.00" y1="115.17" x2="470.00" y2="115.17" stroke="#888" stroke-width="0.6" />
<text x="359.50" y="117.97" font-size="7.8" font-weight="normal" fill="#222" text-anchor="end" font-family="Liberation Sans" >20</text>
<line x1="362.00" y1="95.45" x2="364.00" y2="95.45" stroke="#888" stroke-width="0.6" />
<line x1="472.00" y1="95.45" x2="470.00" y2="95.45" stroke="#888" stroke-width="0.6" />
<text x="359.50" y="98.25" font-size="7.8" font-weight="normal" fill="#222" text-anchor="end" font-family="Liberation Sans" >30</text>
<line x1="362.00" y1="75.73" x2="364.00" y2="75.73" stroke="#888" stroke-width="0.6" />
<line x1="472.00" y1="75.73" x2="470.00" y2="75.73" stroke="#888" stroke-width="0.6" />
<text x="359.50" y="78.53" font-size="7.8" font-weight="normal" fill="#222" text-anchor="end" font-family="Liberation Sans" >40</text>
<line x1="362.00" y1="56.02" x2="364.00" y2="56.02" stroke="#888" stroke-width="0.6" />
<line x1="472.00" y1="56.02" x2="470.00" y2="56.02" stroke="#888" stroke-width="0.6" />
<text x="359.50" y="58.82" font-size="7.8" font-weight="normal" fill="#222" text-anchor="end" font-family="Liberation Sans" >50</text>
<line x1="362.00" y1="36.30" x2="364.00" y2="36.30" stroke="#888" stroke-width="0.6" />
<line x1="472.00" y1="36.30" x2="470.00" y2="36.30" stroke="#888" stroke-width="0.6" />
<text x="359.50" y="39.10" font-size="7.8" font-weight="normal" fill="#222" text-anchor="end" font-family="Liberation Sans" >60</text>
<line x1="362.00" y1="154.60" x2="362.00" y2="152.60" stroke="#888" stroke-width="0.6" />
<line x1="362.00" y1="36.30" x2="362.00" y2="38.30" stroke="#888" stroke-width="0.6" />
<text x="362.00" y="161.50" font-size="7.8" font-weight="normal" fill="#222" text-anchor="middle" font-family="Liberation Sans" >400</text>
<line x1="389.50" y1="154.60" x2="389.50" y2="152.60" stroke="#888" stroke-width="0.6" />
<line x1="389.50" y1="36.30" x2="389.50" y2="38.30" stroke="#888" stroke-width="0.6" />
<text x="389.50" y="161.50" font-size="7.8" font-weight="normal" fill="#222" text-anchor="middle" font-family="Liberation Sans" >500</text>
<line x1="417.00" y1="154.60" x2="417.00" y2="152.60" stroke="#888" stroke-width="0.6" />
<line x1="417.00" y1="36.30" x2="417.00" y2="38.30" stroke="#888" stroke-width="0.6" />
<text x="417.00" y="161.50" font-size="7.8" font-weight="normal" fill="#222" text-anchor="middle" font-family="Liberation Sans" >600</text>
<line x1="444.50" y1="154.60" x2="444.50" y2="152.60" stroke="#888" stroke-width="0.6" />
<line x1="444.50" y1="36.30" x2="444.50" y2="38.30" stroke="#888" stroke-width="0.6" />
<text x="444.50" y="161.50" font-size="7.8" font-weight="normal" fill="#222" text-anchor="middle" font-family="Liberation Sans" >700</text>
<line x1="472.00" y1="154.60" x2="472.00" y2="152.60" stroke="#888" stroke-width="0.6" />
<line x1="472.00" y1="36.30" x2="472.00" y2="38.30" stroke="#888" stroke-width="0.6" />
<text x="472.00" y="161.50" font-size="7.8" font-weight="normal" fill="#222" text-anchor="middle" font-family="Liberation Sans" >800</text>
<text x="421.50" y="172.00" font-size="8.6" font-weight="bold" fill="#222" text-anchor="middle" font-family="Liberation Sans" textLength="61" lengthAdjust="spacingAndGlyphs">Wavelength (nm)</text>
<text x="0.00" y="0.00" font-size="8.6" font-weight="bold" fill="#222" text-anchor="middle" font-family="Liberation Sans" transform="translate(348.3,94.5) rotate(-90)" textLength="69" lengthAdjust="spacingAndGlyphs">Transmittance (%)</text>
<text x="363.20" y="47.30" font-size="8.2" font-weight="normal" fill="#111" text-anchor="start" font-family="Liberation Sans" textLength="70" lengthAdjust="spacingAndGlyphs" stroke="#111" stroke-width="0.15">6 nm gold as electrode</text>
<rect x="364.00" y="57.10" width="14.90" height="16.40" fill="#dcc23c" stroke="none" stroke-width="1" />
<line x1="364.00" y1="58.70" x2="378.90" y2="58.70" stroke="#9a8a20" stroke-width="0.55" />
<line x1="364.00" y1="60.95" x2="378.90" y2="60.95" stroke="#9a8a20" stroke-width="0.55" />
<line x1="364.00" y1="63.20" x2="378.90" y2="63.20" stroke="#9a8a20" stroke-width="0.55" />
<line x1="364.00" y1="65.45" x2="378.90" y2="65.45" stroke="#9a8a20" stroke-width="0.55" />
<line x1="364.00" y1="67.70" x2="378.90" y2="67.70" stroke="#9a8a20" stroke-width="0.55" />
<line x1="364.00" y1="69.95" x2="378.90" y2="69.95" stroke="#9a8a20" stroke-width="0.55" />
<line x1="364.00" y1="72.20" x2="378.90" y2="72.20" stroke="#9a8a20" stroke-width="0.55" />
<rect x="378.90" y="57.10" width="14.90" height="16.40" fill="#f2502c" stroke="none" stroke-width="1" />
<line x1="378.90" y1="58.70" x2="393.80" y2="58.70" stroke="#b83218" stroke-width="0.55" />
<line x1="378.90" y1="60.95" x2="393.80" y2="60.95" stroke="#b83218" stroke-width="0.55" />
<line x1="378.90" y1="63.20" x2="393.80" y2="63.20" stroke="#b83218" stroke-width="0.55" />
<line x1="378.90" y1="65.45" x2="393.80" y2="65.45" stroke="#b83218" stroke-width="0.55" />
<line x1="378.90" y1="67.70" x2="393.80" y2="67.70" stroke="#b83218" stroke-width="0.55" />
<line x1="378.90" y1="69.95" x2="393.80" y2="69.95" stroke="#b83218" stroke-width="0.55" />
<line x1="378.90" y1="72.20" x2="393.80" y2="72.20" stroke="#b83218" stroke-width="0.55" />
<rect x="393.80" y="57.10" width="14.30" height="16.40" fill="#1ea060" stroke="none" stroke-width="1" />
<line x1="393.80" y1="58.70" x2="408.10" y2="58.70" stroke="#0c6a3a" stroke-width="0.55" />
<line x1="393.80" y1="60.95" x2="408.10" y2="60.95" stroke="#0c6a3a" stroke-width="0.55" />
<line x1="393.80" y1="63.20" x2="408.10" y2="63.20" stroke="#0c6a3a" stroke-width="0.55" />
<line x1="393.80" y1="65.45" x2="408.10" y2="65.45" stroke="#0c6a3a" stroke-width="0.55" />
<line x1="393.80" y1="67.70" x2="408.10" y2="67.70" stroke="#0c6a3a" stroke-width="0.55" />
<line x1="393.80" y1="69.95" x2="408.10" y2="69.95" stroke="#0c6a3a" stroke-width="0.55" />
<line x1="393.80" y1="72.20" x2="408.10" y2="72.20" stroke="#0c6a3a" stroke-width="0.55" />
<line x1="408.10" y1="58.70" x2="410.60" y2="58.70" stroke="#666" stroke-width="0.5" />
<line x1="408.10" y1="60.95" x2="410.60" y2="60.95" stroke="#666" stroke-width="0.5" />
<line x1="408.10" y1="63.20" x2="410.60" y2="63.20" stroke="#666" stroke-width="0.5" />
<line x1="408.10" y1="65.45" x2="410.60" y2="65.45" stroke="#666" stroke-width="0.5" />
<line x1="408.10" y1="67.70" x2="410.60" y2="67.70" stroke="#666" stroke-width="0.5" />
<line x1="408.10" y1="69.95" x2="410.60" y2="69.95" stroke="#666" stroke-width="0.5" />
<line x1="408.10" y1="72.20" x2="410.60" y2="72.20" stroke="#666" stroke-width="0.5" />
<text x="370.30" y="55.60" font-size="5.4" font-weight="bold" fill="#111" text-anchor="middle" font-family="Liberation Sans" >1</text>
<text x="387.10" y="55.60" font-size="5.4" font-weight="bold" fill="#111" text-anchor="middle" font-family="Liberation Sans" >2</text>
<text x="403.00" y="55.60" font-size="5.4" font-weight="bold" fill="#111" text-anchor="middle" font-family="Liberation Sans" >3</text>
<text x="369.00" y="86.60" font-size="7.4" font-weight="bold" fill="#ff4a20" text-anchor="start" font-family="Liberation Sans" textLength="25" lengthAdjust="spacingAndGlyphs">AVT~34%</text>
<text x="411.90" y="95.30" font-size="7.4" font-weight="bold" fill="#222" text-anchor="start" font-family="Liberation Sans" textLength="26" lengthAdjust="spacingAndGlyphs">AVT~30%</text>
<rect x="420.60" y="116.30" width="34.40" height="20.70" fill="#fff" stroke="#777" stroke-width="0.6" />
<line x1="423.50" y1="123.50" x2="431.00" y2="123.50" stroke="#0b8a3c" stroke-width="1.2" />
<circle cx="427.3" cy="123.5" r="1" fill="#0b8a3c"/>
<text x="432.80" y="126.20" font-size="8.2" font-weight="bold" fill="#0b8a3c" text-anchor="start" font-family="Liberation Sans" textLength="21" lengthAdjust="spacingAndGlyphs">0 wt%</text>
<line x1="423.50" y1="131.30" x2="431.00" y2="131.30" stroke="#ff3314" stroke-width="1.2" />
<circle cx="427.3" cy="131.3" r="1" fill="#ff3314"/>
<text x="432.80" y="134.20" font-size="8.2" font-weight="bold" fill="#ff3314" text-anchor="start" font-family="Liberation Sans" textLength="21" lengthAdjust="spacingAndGlyphs">3 wt%</text>
<text x="348.00" y="17.60" font-size="17.3" font-weight="bold" fill="#111" text-anchor="start" font-family="Liberation Sans" >(c)</text>
<defs>
<linearGradient id="cylg" x1="0" x2="1" y1="0" y2="0">
 <stop offset="0" stop-color="#b4b4b4"/><stop offset="0.1" stop-color="#c6c6c6"/>
 <stop offset="0.5" stop-color="#cecece"/><stop offset="0.8" stop-color="#bcbcbc"/><stop offset="0.97" stop-color="#a8a8a8"/><stop offset="1" stop-color="#c0c0c0"/>
</linearGradient>
<linearGradient id="topg" x1="0" x2="0" y1="0" y2="1">
 <stop offset="0" stop-color="#c8c8c8"/><stop offset="1" stop-color="#dcdcdc"/>
</linearGradient>
<linearGradient id="greeng" x1="0" x2="1" y1="0" y2="0">
 <stop offset="0" stop-color="#30ba50"/><stop offset="0.3" stop-color="#2aa84a"/><stop offset="0.5" stop-color="#44a24c"/><stop offset="0.75" stop-color="#64a656"/><stop offset="1" stop-color="#7aaa5c"/>
</linearGradient>
<linearGradient id="yelg" x1="0" x2="1" y1="0" y2="0">
 <stop offset="0" stop-color="#c6c66c"/><stop offset="0.6" stop-color="#d4d47e"/><stop offset="1" stop-color="#dcdc8c"/>
</linearGradient>
<linearGradient id="rodg" x1="0" x2="1" y1="0" y2="0">
 <stop offset="0" stop-color="#4848a8"/><stop offset="0.5" stop-color="#6868c8"/><stop offset="1" stop-color="#4040a0"/>
</linearGradient>
</defs>
<path d="M17.6,217 L17.6,350 A54.2,12 0 0 0 126.0,350 L126.0,217 Z" fill="url(#cylg)"/>
<ellipse cx="71.8" cy="349" rx="52.7" ry="10.5" fill="#d6d6d6" opacity="0.6"/>
<ellipse cx="71.8" cy="217" rx="54.2" ry="11.5" fill="url(#topg)" stroke="#b5b5b5" stroke-width="0.8"/>
<path d="M20.6,219 A51.2,9.5 0 0 0 123.0,219" fill="none" stroke="#ececec" stroke-width="1.2"/>
<path d="M50,253 Q88,237 126,250 L87.5,345 Z" fill="url(#yelg)" opacity="0.95"/>
<ellipse cx="104" cy="250.5" rx="21.5" ry="4.5" fill="#e4e49a" opacity="0.7"/>
<path d="M18,251 Q56,236 95,253 L58,345 Z" fill="url(#greeng)" opacity="0.96"/>
<ellipse cx="42" cy="249.5" rx="24" ry="5" fill="#3cc85e" opacity="0.55"/>
<rect x="39.0" y="274.4" width="13.5" height="12.5" rx="1.5" fill="#7c8a92"/>
<rect x="40.0" y="275.4" width="11.5" height="4.4" rx="1" fill="#96a2aa"/>
<rect x="47.8" y="278.1" width="4.7" height="8.8" fill="#6e7c84"/>
<rect x="94.2" y="272.0" width="13.3" height="12.4" rx="1.5" fill="#bcaca6"/>
<rect x="95.2" y="273.0" width="11.3" height="4.3" rx="1" fill="#d0c2bc"/>
<rect x="102.8" y="275.7" width="4.7" height="8.7" fill="#a8988f"/>
<text x="48.80" y="296.80" font-size="8.3" font-weight="bold" fill="#111" text-anchor="middle" font-family="Liberation Serif" textLength="28" lengthAdjust="spacingAndGlyphs">Sensor1</text>
<text x="95.80" y="296.80" font-size="8.3" font-weight="bold" fill="#111" text-anchor="middle" font-family="Liberation Serif" textLength="28" lengthAdjust="spacingAndGlyphs">Sensor2</text>
<rect x="67.3" y="215.5" width="9.6" height="31" fill="url(#rodg)"/>
<ellipse cx="72.1" cy="215.8" rx="4.8" ry="1.3" fill="#7070cc"/>
<ellipse cx="74.8" cy="231" rx="10.6" ry="3.6" fill="#6e4aa8"/>
<ellipse cx="74.8" cy="230.2" rx="8.5" ry="2.2" fill="#8a68c0"/>
<rect x="67.3" y="215.5" width="9.6" height="14.5" fill="url(#rodg)"/>
<path d="M64.2,231 A10.6,3.6 0 0 0 85.4,231 L83,231 A8.2,2.2 0 0 1 66.6,231 Z" fill="#6a46a4"/>
<path d="M42.9,244.2 L42.9,249 A30.5,6.4 0 0 0 103.9,249 L103.9,244.2 Z" fill="#633a94"/>
<ellipse cx="73.4" cy="244.2" rx="30.5" ry="6.4" fill="#8462b6"/>
<ellipse cx="73.4" cy="243.6" rx="24" ry="4.3" fill="#8e6ec0" opacity="0.8"/>
<rect x="68.3" y="234" width="8" height="9" fill="url(#rodg)"/>
<ellipse cx="72.3" cy="243" rx="4" ry="1.3" fill="#5656ae"/>
<line x1="51.70" y1="345.60" x2="60.50" y2="342.40" stroke="#c84a2a" stroke-width="1.3" />
<line x1="83.50" y1="344.50" x2="92.20" y2="341.30" stroke="#c84a2a" stroke-width="1.3" />
<path d="M56.1,342.8 L56.1,346.3 A7.7,2 0 0 0 71.4,346.3 L71.4,342.8 Z" fill="#3c3c98"/>
<ellipse cx="63.8" cy="342.8" rx="7.7" ry="2" fill="#5a5ab8"/>
<path d="M60.5,337.4 L60.5,341.4 A3.8,1.6 0 0 0 68.1,341.4 L68.1,337.4 Z" fill="#40409e"/>
<ellipse cx="64.3" cy="337.4" rx="3.8" ry="1.5" fill="#6262c2"/>
<path d="M89.6,342.8 L89.6,346.3 A7.3,2 0 0 0 104.2,346.3 L104.2,342.8 Z" fill="#3c3c98"/>
<ellipse cx="96.9" cy="342.8" rx="7.3" ry="2" fill="#5a5ab8"/>
<path d="M92.2,337.0 L92.2,341.4 A4.4,1.6 0 0 0 101.0,341.4 L101.0,337.0 Z" fill="#40409e"/>
<ellipse cx="96.6" cy="337.0" rx="4.4" ry="1.5" fill="#6262c2"/>
<path d="M39.3,347.1 L39.3,351.5 A7.7,2 0 0 0 54.6,351.5 L54.6,347.1 Z" fill="#3c3c98"/>
<ellipse cx="47.0" cy="347.1" rx="7.7" ry="2" fill="#5a5ab8"/>
<path d="M43.0,342.5 L43.0,345.7 A4.4,1.6 0 0 0 51.7,345.7 L51.7,342.5 Z" fill="#40409e"/>
<ellipse cx="47.4" cy="342.5" rx="4.4" ry="1.5" fill="#6262c2"/>
<path d="M72.5,348.2 L72.5,351.5 A7.1,2 0 0 0 86.7,351.5 L86.7,348.2 Z" fill="#3c3c98"/>
<ellipse cx="79.6" cy="348.2" rx="7.1" ry="2" fill="#5a5ab8"/>
<path d="M75.8,342.5 L75.8,346.8 A3.9,1.6 0 0 0 83.5,346.8 L83.5,342.5 Z" fill="#40409e"/>
<ellipse cx="79.7" cy="342.5" rx="3.9" ry="1.5" fill="#6262c2"/>
<text x="26.60" y="338.60" font-size="8.2" font-weight="bold" fill="#111" text-anchor="start" font-family="Liberation Serif" textLength="17.8" lengthAdjust="spacingAndGlyphs">PbBr</text>
<text x="44.60" y="340.40" font-size="5.3" font-weight="bold" fill="#111" text-anchor="start" font-family="Liberation Serif" >2</text>
<text x="104.20" y="339.00" font-size="8.6" font-weight="bold" fill="#111" text-anchor="start" font-family="Liberation Serif" textLength="16.8" lengthAdjust="spacingAndGlyphs">CsBr</text>
<text x="3.60" y="203.00" font-size="17.3" font-weight="bold" fill="#111" text-anchor="start" font-family="Liberation Sans" >(d)</text>
<defs><linearGradient id="bldg" x1="0" x2="1" y1="0" y2="0"><stop offset="0" stop-color="#9c8838"/><stop offset="0.25" stop-color="#a48e3c"/><stop offset="0.3" stop-color="#7a7028"/><stop offset="0.5" stop-color="#8e8034"/><stop offset="0.55" stop-color="#565a1e"/><stop offset="0.8" stop-color="#5e5e22"/><stop offset="0.85" stop-color="#a08a3c"/><stop offset="1" stop-color="#8e7e34"/></linearGradient></defs>
<rect x="218.90" y="273.90" width="74.40" height="59.50" fill="#efc602" stroke="none" stroke-width="1" />
<rect x="277.00" y="273.90" width="16.30" height="59.50" fill="#cfdde2" stroke="none" stroke-width="1" />
<path d="M279,282 Q276,300 283,315 L292,315 Q295,295 291,281 Z" fill="#8e9ea4"/>
<path d="M229,280 Q223,296 229.5,314 L277,314 L279,280 L262,280 Q246,276 229,280 Z" fill="url(#bldg)"/>
<path d="M231,280 L233,276.5 L236,279 Z M244,279 L247,275.5 L250,278.5 Z M270,279 L272,276 L274,279 Z" fill="#a08a3c"/>
<rect x="218.90" y="315.50" width="74.40" height="5.00" fill="#5a5a2a" stroke="none" stroke-width="1" />
<ellipse cx="223.0" cy="314.5" rx="4.0" ry="4.8" fill="#3c4620"/>
<ellipse cx="230.0" cy="314.0" rx="3.1" ry="4.0" fill="#46502a"/>
<ellipse cx="236.0" cy="315.5" rx="3.6" ry="4.0" fill="#3a4220"/>
<ellipse cx="243.0" cy="315.0" rx="2.7" ry="3.6" fill="#4a5228"/>
<ellipse cx="251.0" cy="315.5" rx="3.6" ry="4.0" fill="#3e4822"/>
<ellipse cx="258.0" cy="314.5" rx="3.1" ry="4.0" fill="#4c5228"/>
<ellipse cx="266.0" cy="315.5" rx="4.0" ry="4.0" fill="#3a4420"/>
<ellipse cx="274.0" cy="314.5" rx="3.6" ry="4.4" fill="#3c4622"/>
<ellipse cx="282.0" cy="315.5" rx="3.1" ry="4.0" fill="#48522a"/>
<ellipse cx="289.0" cy="315.0" rx="3.6" ry="4.0" fill="#3e4a24"/>
<rect x="218.90" y="320.30" width="74.40" height="13.10" fill="#64843a" stroke="none" stroke-width="1" />
<rect x="218.90" y="319.50" width="74.40" height="1.60" fill="#6a6a30" stroke="none" stroke-width="1" />
<rect x="277.50" y="274.30" width="15.40" height="58.70" fill="none" stroke="#e8c820" stroke-width="0.7" stroke-dasharray="1,1"/>
<text x="279.00" y="282.00" font-size="5.2" font-weight="normal" fill="#3a5ac8" text-anchor="start" font-family="Liberation Sans" >Back</text>
<text x="278.50" y="289.00" font-size="5.2" font-weight="normal" fill="#3a5ac8" text-anchor="start" font-family="Liberation Sans" textLength="15.5" lengthAdjust="spacingAndGlyphs">Ground</text>
<path d="M160.20,335.00 C163.70,335.00 176.62,335.16 181.19,335.00 C185.76,334.84 184.81,334.71 187.61,334.02 C190.41,333.33 194.85,331.97 197.98,330.87 C201.10,329.76 204.64,328.06 206.37,327.39 C208.10,326.72 207.73,326.85 208.35,326.85 C208.96,326.85 209.54,327.05 210.08,327.39 C210.61,327.74 211.10,328.19 211.56,328.91 C212.01,329.64 212.46,331.05 212.79,331.74 C213.12,332.43 213.24,333.01 213.53,333.04 C213.82,333.08 214.19,332.63 214.52,331.96 C214.85,331.29 215.20,332.14 215.51,329.02 C215.82,325.91 216.15,320.42 216.37,313.26 C216.60,306.10 216.72,295.14 216.87,286.09 C217.01,277.03 217.03,264.80 217.24,258.91 C217.44,253.02 217.73,252.39 218.10,250.76 C218.47,249.13 218.98,249.67 219.46,249.13 C219.93,248.58 220.28,248.49 220.94,247.50 C221.60,246.50 222.42,245.23 223.41,243.15 C224.40,241.07 225.67,237.26 226.87,235.00 C228.06,232.73 229.46,230.72 230.57,229.56 C231.68,228.40 232.67,228.27 233.53,228.04 C234.40,227.80 234.81,227.80 235.75,228.15 C236.70,228.49 237.81,229.25 239.21,230.10 C240.61,230.96 241.68,232.30 244.15,233.26 C246.62,234.22 250.73,235.14 254.03,235.87 C257.32,236.59 260.61,237.17 263.90,237.60 C267.19,238.04 270.90,238.64 273.78,238.47 C276.66,238.31 278.72,237.50 281.19,236.63 C283.65,235.76 286.12,234.34 288.59,233.26 C291.06,232.17 294.77,230.63 296.00,230.10" stroke="#2e4fc0" stroke-width="1.5" fill="none" stroke-linejoin="round"/>
<rect x="160.20" y="226.30" width="135.80" height="108.70" fill="none" stroke="#222" stroke-width="0.9" />
<line x1="160.20" y1="335.00" x2="157.70" y2="335.00" stroke="#222" stroke-width="0.8" />
<text x="156.90" y="337.30" font-size="6.4" font-weight="bold" fill="#222" text-anchor="end" font-family="Liberation Sans" >0</text>
<line x1="160.20" y1="313.26" x2="157.70" y2="313.26" stroke="#222" stroke-width="0.8" />
<text x="156.90" y="315.56" font-size="6.4" font-weight="bold" fill="#222" text-anchor="end" font-family="Liberation Sans" >20</text>
<line x1="160.20" y1="291.52" x2="157.70" y2="291.52" stroke="#222" stroke-width="0.8" />
<text x="156.90" y="293.82" font-size="6.4" font-weight="bold" fill="#222" text-anchor="end" font-family="Liberation Sans" >40</text>
<line x1="160.20" y1="269.78" x2="157.70" y2="269.78" stroke="#222" stroke-width="0.8" />
<text x="156.90" y="272.08" font-size="6.4" font-weight="bold" fill="#222" text-anchor="end" font-family="Liberation Sans" >60</text>
<line x1="160.20" y1="248.04" x2="157.70" y2="248.04" stroke="#222" stroke-width="0.8" />
<text x="156.90" y="250.34" font-size="6.4" font-weight="bold" fill="#222" text-anchor="end" font-family="Liberation Sans" >80</text>
<line x1="160.20" y1="226.30" x2="157.70" y2="226.30" stroke="#222" stroke-width="0.8" />
<text x="156.90" y="228.60" font-size="6.4" font-weight="bold" fill="#222" text-anchor="end" font-family="Liberation Sans" >100</text>
<line x1="160.20" y1="324.13" x2="158.70" y2="324.13" stroke="#222" stroke-width="0.6" />
<line x1="160.20" y1="302.39" x2="158.70" y2="302.39" stroke="#222" stroke-width="0.6" />
<line x1="160.20" y1="280.65" x2="158.70" y2="280.65" stroke="#222" stroke-width="0.6" />
<line x1="160.20" y1="258.91" x2="158.70" y2="258.91" stroke="#222" stroke-width="0.6" />
<line x1="160.20" y1="237.17" x2="158.70" y2="237.17" stroke="#222" stroke-width="0.6" />
<line x1="160.20" y1="335.00" x2="160.20" y2="337.50" stroke="#222" stroke-width="0.8" />
<text x="160.20" y="343.90" font-size="6.6" font-weight="bold" fill="#222" text-anchor="middle" font-family="Liberation Sans" >300</text>
<line x1="184.89" y1="335.00" x2="184.89" y2="337.50" stroke="#222" stroke-width="0.8" />
<text x="184.89" y="343.90" font-size="6.6" font-weight="bold" fill="#222" text-anchor="middle" font-family="Liberation Sans" >400</text>
<line x1="209.58" y1="335.00" x2="209.58" y2="337.50" stroke="#222" stroke-width="0.8" />
<text x="209.58" y="343.90" font-size="6.6" font-weight="bold" fill="#222" text-anchor="middle" font-family="Liberation Sans" >500</text>
<line x1="234.27" y1="335.00" x2="234.27" y2="337.50" stroke="#222" stroke-width="0.8" />
<text x="234.27" y="343.90" font-size="6.6" font-weight="bold" fill="#222" text-anchor="middle" font-family="Liberation Sans" >600</text>
<line x1="258.96" y1="335.00" x2="258.96" y2="337.50" stroke="#222" stroke-width="0.8" />
<text x="258.96" y="343.90" font-size="6.6" font-weight="bold" fill="#222" text-anchor="middle" font-family="Liberation Sans" >700</text>
<line x1="283.65" y1="335.00" x2="283.65" y2="337.50" stroke="#222" stroke-width="0.8" />
<text x="283.65" y="343.90" font-size="6.6" font-weight="bold" fill="#222" text-anchor="middle" font-family="Liberation Sans" >800</text>
<line x1="172.55" y1="335.00" x2="172.55" y2="336.50" stroke="#222" stroke-width="0.6" />
<line x1="197.24" y1="335.00" x2="197.24" y2="336.50" stroke="#222" stroke-width="0.6" />
<line x1="221.93" y1="335.00" x2="221.93" y2="336.50" stroke="#222" stroke-width="0.6" />
<line x1="246.62" y1="335.00" x2="246.62" y2="336.50" stroke="#222" stroke-width="0.6" />
<line x1="271.31" y1="335.00" x2="271.31" y2="336.50" stroke="#222" stroke-width="0.6" />
<line x1="296.00" y1="335.00" x2="296.00" y2="336.50" stroke="#222" stroke-width="0.6" />
<text x="228.80" y="353.40" font-size="8.6" font-weight="bold" fill="#222" text-anchor="middle" font-family="Liberation Sans" textLength="63.5" lengthAdjust="spacingAndGlyphs">Wavelength (nm)</text>
<text x="0.00" y="0.00" font-size="8.3" font-weight="bold" fill="#222" text-anchor="middle" font-family="Liberation Sans" transform="translate(148,283) rotate(-90)" textLength="76" lengthAdjust="spacingAndGlyphs">Transmittance (%)</text>
<polygon points="174.7,235.0 184.7,245.8 174.7,256.6 164.7,245.8" fill="#1f8a9a"/>
<polygon points="164.7,245.8 174.7,235.0 176.2,246.9" fill="#2aa6b6"/>
<polygon points="174.7,235.0 184.7,245.8 176.2,246.9" fill="#34b4c4"/>
<polygon points="164.7,245.8 176.2,246.9 174.7,256.6" fill="#187888"/>
<polygon points="194.7,235.0 204.7,245.8 194.7,256.6 184.7,245.8" fill="#1f8a9a"/>
<polygon points="184.7,245.8 194.7,235.0 196.2,246.9" fill="#2aa6b6"/>
<polygon points="194.7,235.0 204.7,245.8 196.2,246.9" fill="#34b4c4"/>
<polygon points="184.7,245.8 196.2,246.9 194.7,256.6" fill="#187888"/>
<polygon points="174.7,255.0 184.7,265.8 174.7,276.6 164.7,265.8" fill="#1f8a9a"/>
<polygon points="164.7,265.8 174.7,255.0 176.2,266.9" fill="#2aa6b6"/>
<polygon points="174.7,255.0 184.7,265.8 176.2,266.9" fill="#34b4c4"/>
<polygon points="164.7,265.8 176.2,266.9 174.7,276.6" fill="#187888"/>
<polygon points="194.7,255.0 204.7,265.8 194.7,276.6 184.7,265.8" fill="#1f8a9a"/>
<polygon points="184.7,265.8 194.7,255.0 196.2,266.9" fill="#2aa6b6"/>
<polygon points="194.7,255.0 204.7,265.8 196.2,266.9" fill="#34b4c4"/>
<polygon points="184.7,265.8 196.2,266.9 194.7,276.6" fill="#187888"/>
<circle cx="184.3" cy="255.5" r="1.6" fill="#1aa040"/>
<text x="170.80" y="233.30" font-size="6.8" font-weight="bold" fill="#ee2a2a" text-anchor="start" font-family="Liberation Sans" textLength="23" lengthAdjust="spacingAndGlyphs">CsPbBr<tspan font-size="4.5" dy="1.5">3</tspan></text>
<text x="187.60" y="197.80" font-size="17.3" font-weight="bold" fill="#111" text-anchor="start" font-family="Liberation Sans" >(e)</text>
<rect x="348.70" y="235.40" width="102.10" height="69.80" fill="#fff" stroke="#4a78c8" stroke-width="0.9" />
<rect x="365.80" y="298.90" width="10.50" height="6.30" fill="#ff2200" stroke="#ffb0a0" stroke-width="0.4" />
<rect x="377.20" y="286.30" width="11.10" height="18.90" fill="#ff2200" stroke="#ffb0a0" stroke-width="0.4" />
<rect x="388.30" y="273.70" width="10.90" height="31.50" fill="#ff2200" stroke="#ffb0a0" stroke-width="0.4" />
<rect x="400.20" y="248.50" width="10.60" height="56.70" fill="#ff2200" stroke="#ffb0a0" stroke-width="0.4" />
<rect x="411.70" y="273.70" width="10.30" height="31.50" fill="#ff2200" stroke="#ffb0a0" stroke-width="0.4" />
<rect x="423.10" y="292.60" width="10.00" height="12.60" fill="#ff2200" stroke="#ffb0a0" stroke-width="0.4" />
<path d="M348.70,305.15 L349.70,305.13 L350.70,305.11 L351.70,305.09 L352.70,305.06 L353.70,305.02 L354.70,304.97 L355.70,304.91 L356.70,304.84 L357.70,304.75 L358.70,304.64 L359.70,304.51 L360.70,304.36 L361.70,304.17 L362.70,303.95 L363.70,303.69 L364.70,303.38 L365.70,303.02 L366.70,302.59 L367.70,302.11 L368.70,301.54 L369.70,300.90 L370.70,300.17 L371.70,299.34 L372.70,298.40 L373.70,297.36 L374.70,296.19 L375.70,294.91 L376.70,293.49 L377.70,291.94 L378.70,290.26 L379.70,288.45 L380.70,286.50 L381.70,284.43 L382.70,282.24 L383.70,279.93 L384.70,277.53 L385.70,275.04 L386.70,272.49 L387.70,269.88 L388.70,267.25 L389.70,264.62 L390.70,262.01 L391.70,259.45 L392.70,256.97 L393.70,254.60 L394.70,252.36 L395.70,250.29 L396.70,248.40 L397.70,246.73 L398.70,245.29 L399.70,244.11 L400.70,243.20 L401.70,242.58 L402.70,242.25 L403.70,242.22 L404.70,242.49 L405.70,243.06 L406.70,243.91 L407.70,245.03 L408.70,246.42 L409.70,248.05 L410.70,249.89 L411.70,251.93 L412.70,254.14 L413.70,256.49 L414.70,258.95 L415.70,261.49 L416.70,264.10 L417.70,266.73 L418.70,269.36 L419.70,271.97 L420.70,274.53 L421.70,277.04 L422.70,279.46 L423.70,281.78 L424.70,284.00 L425.70,286.10 L426.70,288.07 L427.70,289.91 L428.70,291.62 L429.70,293.19 L430.70,294.63 L431.70,295.95 L432.70,297.13 L433.70,298.20 L434.70,299.16 L435.70,300.01 L436.70,300.76 L437.70,301.42 L438.70,302.00 L439.70,302.50 L440.70,302.94 L441.70,303.31 L442.70,303.63 L443.70,303.90 L444.70,304.13 L445.70,304.32 L446.70,304.49 L447.70,304.62 L448.70,304.73 L449.70,304.82 L450.70,304.90" stroke="#ff5533" stroke-width="0.8" fill="none" />
<line x1="348.70" y1="305.20" x2="350.20" y2="305.20" stroke="#4a78c8" stroke-width="0.6" />
<text x="347.20" y="306.80" font-size="4.6" font-weight="bold" fill="#3a68c0" text-anchor="end" font-family="Liberation Sans" >0</text>
<line x1="348.70" y1="292.60" x2="350.20" y2="292.60" stroke="#4a78c8" stroke-width="0.6" />
<text x="347.20" y="294.20" font-size="4.6" font-weight="bold" fill="#3a68c0" text-anchor="end" font-family="Liberation Sans" >2</text>
<line x1="348.70" y1="280.00" x2="350.20" y2="280.00" stroke="#4a78c8" stroke-width="0.6" />
<text x="347.20" y="281.60" font-size="4.6" font-weight="bold" fill="#3a68c0" text-anchor="end" font-family="Liberation Sans" >4</text>
<line x1="348.70" y1="267.40" x2="350.20" y2="267.40" stroke="#4a78c8" stroke-width="0.6" />
<text x="347.20" y="269.00" font-size="4.6" font-weight="bold" fill="#3a68c0" text-anchor="end" font-family="Liberation Sans" >6</text>
<line x1="348.70" y1="254.80" x2="350.20" y2="254.80" stroke="#4a78c8" stroke-width="0.6" />
<text x="347.20" y="256.40" font-size="4.6" font-weight="bold" fill="#3a68c0" text-anchor="end" font-family="Liberation Sans" >8</text>
<line x1="348.70" y1="242.20" x2="350.20" y2="242.20" stroke="#4a78c8" stroke-width="0.6" />
<text x="347.20" y="243.80" font-size="4.6" font-weight="bold" fill="#3a68c0" text-anchor="end" font-family="Liberation Sans" >10</text>
<line x1="347.50" y1="305.20" x2="347.50" y2="303.70" stroke="#4a78c8" stroke-width="0.6" />
<text x="347.50" y="310.20" font-size="4.8" font-weight="bold" fill="#3a68c0" text-anchor="middle" font-family="Liberation Sans" >4.5</text>
<line x1="376.25" y1="305.20" x2="376.25" y2="303.70" stroke="#4a78c8" stroke-width="0.6" />
<text x="376.25" y="310.20" font-size="4.8" font-weight="bold" fill="#3a68c0" text-anchor="middle" font-family="Liberation Sans" >5.0</text>
<line x1="405.00" y1="305.20" x2="405.00" y2="303.70" stroke="#4a78c8" stroke-width="0.6" />
<text x="405.00" y="310.20" font-size="4.8" font-weight="bold" fill="#3a68c0" text-anchor="middle" font-family="Liberation Sans" >5.5</text>
<line x1="433.75" y1="305.20" x2="433.75" y2="303.70" stroke="#4a78c8" stroke-width="0.6" />
<text x="433.75" y="310.20" font-size="4.8" font-weight="bold" fill="#3a68c0" text-anchor="middle" font-family="Liberation Sans" >6.0</text>
<text x="399.30" y="317.80" font-size="6.9" font-weight="bold" fill="#3a68c0" text-anchor="middle" font-family="Liberation Sans" textLength="24" lengthAdjust="spacingAndGlyphs">PCE (%)</text>
<text x="0.00" y="0.00" font-size="7" font-weight="bold" fill="#3a68c0" text-anchor="middle" font-family="Liberation Sans" transform="translate(341.2,269.1) rotate(-90)" textLength="20.5" lengthAdjust="spacingAndGlyphs">Counts</text>
<path d="M338.30,325.99 C339.30,325.99 342.30,326.01 344.30,325.99 C346.30,325.96 348.30,325.91 350.30,325.84 C352.30,325.76 354.30,325.61 356.30,325.53 C358.30,325.45 360.30,325.43 362.30,325.38 C364.30,325.33 366.30,325.30 368.30,325.22 C370.30,325.15 372.30,325.05 374.30,324.92 C376.30,324.79 378.30,324.64 380.30,324.46 C382.30,324.28 384.30,324.05 386.30,323.85 C388.30,323.64 390.30,323.46 392.30,323.24 C394.30,323.01 396.30,322.73 398.30,322.47 C400.30,322.22 402.30,321.99 404.30,321.70 C406.30,321.42 408.30,321.07 410.30,320.79 C412.30,320.51 414.30,320.28 416.30,320.02 C418.30,319.77 420.30,319.51 422.30,319.26 C424.30,319.00 426.30,318.87 428.30,318.49 C430.30,318.11 432.30,317.55 434.30,316.96 C436.30,316.38 438.30,315.76 440.30,314.97 C442.30,314.18 444.30,313.39 446.30,312.22 C448.30,311.05 450.30,310.26 452.30,307.94 C454.30,305.61 456.30,303.09 458.30,298.30 C460.30,293.50 462.30,289.19 464.30,279.17 C466.30,269.15 468.97,246.00 470.30,238.17 C471.63,230.34 471.97,233.19 472.30,232.20" stroke="#2a60c0" stroke-width="0.9" fill="none" />
<circle cx="338.30" cy="325.99" r="2.45" fill="#fff" stroke="#2a60c0" stroke-width="0.75"/>
<circle cx="344.30" cy="325.99" r="2.45" fill="#fff" stroke="#2a60c0" stroke-width="0.75"/>
<circle cx="350.30" cy="325.84" r="2.45" fill="#fff" stroke="#2a60c0" stroke-width="0.75"/>
<circle cx="356.30" cy="325.53" r="2.45" fill="#fff" stroke="#2a60c0" stroke-width="0.75"/>
<circle cx="362.30" cy="325.38" r="2.45" fill="#fff" stroke="#2a60c0" stroke-width="0.75"/>
<circle cx="368.30" cy="325.22" r="2.45" fill="#fff" stroke="#2a60c0" stroke-width="0.75"/>
<circle cx="374.30" cy="324.92" r="2.45" fill="#fff" stroke="#2a60c0" stroke-width="0.75"/>
<circle cx="380.30" cy="324.46" r="2.45" fill="#fff" stroke="#2a60c0" stroke-width="0.75"/>
<circle cx="386.30" cy="323.85" r="2.45" fill="#fff" stroke="#2a60c0" stroke-width="0.75"/>
<circle cx="392.30" cy="323.24" r="2.45" fill="#fff" stroke="#2a60c0" stroke-width="0.75"/>
<circle cx="398.30" cy="322.47" r="2.45" fill="#fff" stroke="#2a60c0" stroke-width="0.75"/>
<circle cx="404.30" cy="321.70" r="2.45" fill="#fff" stroke="#2a60c0" stroke-width="0.75"/>
<circle cx="410.30" cy="320.79" r="2.45" fill="#fff" stroke="#2a60c0" stroke-width="0.75"/>
<circle cx="416.30" cy="320.02" r="2.45" fill="#fff" stroke="#2a60c0" stroke-width="0.75"/>
<circle cx="422.30" cy="319.26" r="2.45" fill="#fff" stroke="#2a60c0" stroke-width="0.75"/>
<circle cx="428.30" cy="318.49" r="2.45" fill="#fff" stroke="#2a60c0" stroke-width="0.75"/>
<circle cx="434.30" cy="316.96" r="2.45" fill="#fff" stroke="#2a60c0" stroke-width="0.75"/>
<circle cx="440.30" cy="314.97" r="2.45" fill="#fff" stroke="#2a60c0" stroke-width="0.75"/>
<circle cx="446.30" cy="312.22" r="2.45" fill="#fff" stroke="#2a60c0" stroke-width="0.75"/>
<circle cx="452.30" cy="307.94" r="2.45" fill="#fff" stroke="#2a60c0" stroke-width="0.75"/>
<circle cx="458.30" cy="298.30" r="2.45" fill="#fff" stroke="#2a60c0" stroke-width="0.75"/>
<circle cx="464.30" cy="279.17" r="2.45" fill="#fff" stroke="#2a60c0" stroke-width="0.75"/>
<circle cx="470.30" cy="238.17" r="2.45" fill="#fff" stroke="#2a60c0" stroke-width="0.75"/>
<rect x="334.50" y="232.20" width="140.90" height="107.10" fill="none" stroke="#222" stroke-width="0.9" />
<line x1="334.50" y1="232.20" x2="332.50" y2="232.20" stroke="#222" stroke-width="0.7" />
<text x="331.50" y="234.40" font-size="6.3" font-weight="bold" fill="#222" text-anchor="end" font-family="Liberation Sans" >0</text>
<line x1="334.50" y1="247.50" x2="332.50" y2="247.50" stroke="#222" stroke-width="0.7" />
<text x="331.50" y="249.70" font-size="6.3" font-weight="bold" fill="#222" text-anchor="end" font-family="Liberation Sans" >-1</text>
<line x1="334.50" y1="262.80" x2="332.50" y2="262.80" stroke="#222" stroke-width="0.7" />
<text x="331.50" y="265.00" font-size="6.3" font-weight="bold" fill="#222" text-anchor="end" font-family="Liberation Sans" >-2</text>
<line x1="334.50" y1="278.10" x2="332.50" y2="278.10" stroke="#222" stroke-width="0.7" />
<text x="331.50" y="280.30" font-size="6.3" font-weight="bold" fill="#222" text-anchor="end" font-family="Liberation Sans" >-3</text>
<line x1="334.50" y1="293.40" x2="332.50" y2="293.40" stroke="#222" stroke-width="0.7" />
<text x="331.50" y="295.60" font-size="6.3" font-weight="bold" fill="#222" text-anchor="end" font-family="Liberation Sans" >-4</text>
<line x1="334.50" y1="308.70" x2="332.50" y2="308.70" stroke="#222" stroke-width="0.7" />
<text x="331.50" y="310.90" font-size="6.3" font-weight="bold" fill="#222" text-anchor="end" font-family="Liberation Sans" >-5</text>
<line x1="334.50" y1="324.00" x2="332.50" y2="324.00" stroke="#222" stroke-width="0.7" />
<text x="331.50" y="326.20" font-size="6.3" font-weight="bold" fill="#222" text-anchor="end" font-family="Liberation Sans" >-6</text>
<line x1="334.50" y1="339.30" x2="332.50" y2="339.30" stroke="#222" stroke-width="0.7" />
<text x="331.50" y="341.50" font-size="6.3" font-weight="bold" fill="#222" text-anchor="end" font-family="Liberation Sans" >-7</text>
<line x1="334.50" y1="339.30" x2="334.50" y2="341.30" stroke="#222" stroke-width="0.7" />
<text x="334.50" y="347.50" font-size="6.3" font-weight="bold" fill="#222" text-anchor="middle" font-family="Liberation Sans" >0.0</text>
<line x1="374.10" y1="339.30" x2="374.10" y2="341.30" stroke="#222" stroke-width="0.7" />
<text x="374.10" y="347.50" font-size="6.3" font-weight="bold" fill="#222" text-anchor="middle" font-family="Liberation Sans" >0.4</text>
<line x1="413.70" y1="339.30" x2="413.70" y2="341.30" stroke="#222" stroke-width="0.7" />
<text x="413.70" y="347.50" font-size="6.3" font-weight="bold" fill="#222" text-anchor="middle" font-family="Liberation Sans" >0.8</text>
<line x1="453.30" y1="339.30" x2="453.30" y2="341.30" stroke="#222" stroke-width="0.7" />
<text x="453.30" y="347.50" font-size="6.3" font-weight="bold" fill="#222" text-anchor="middle" font-family="Liberation Sans" >1.2</text>
<line x1="354.30" y1="339.30" x2="354.30" y2="340.50" stroke="#222" stroke-width="0.6" />
<line x1="393.90" y1="339.30" x2="393.90" y2="340.50" stroke="#222" stroke-width="0.6" />
<line x1="433.50" y1="339.30" x2="433.50" y2="340.50" stroke="#222" stroke-width="0.6" />
<line x1="473.10" y1="339.30" x2="473.10" y2="340.50" stroke="#222" stroke-width="0.6" />
<text x="404.50" y="354.60" font-size="8.6" font-weight="bold" fill="#222" text-anchor="middle" font-family="Liberation Sans" textLength="41" lengthAdjust="spacingAndGlyphs">Voltage (V)</text>
<text x="0.00" y="0.00" font-size="8.3" font-weight="bold" fill="#222" text-anchor="middle" font-family="Liberation Sans" transform="translate(320,286.5) rotate(-90)">Current Density (mA/cm<tspan font-size="5.2" dy="-3">2</tspan><tspan dy="3">)</tspan></text>
<text x="346.70" y="202.90" font-size="17.3" font-weight="bold" fill="#111" text-anchor="start" font-family="Liberation Sans" >(f)</text>
<defs>
<linearGradient id="itof" x1="0" x2="1" y1="0" y2="0"><stop offset="0" stop-color="#7c9ec0"/><stop offset="0.5" stop-color="#b8c8d8"/><stop offset="1" stop-color="#d0dae4"/></linearGradient>
<linearGradient id="itot" x1="0" x2="1" y1="0" y2="0"><stop offset="0" stop-color="#a6d0ee"/><stop offset="1" stop-color="#bfe0f6"/></linearGradient>
<pattern id="perov" width="6" height="5" patternUnits="userSpaceOnUse"><rect width="6" height="5" fill="#d9aa8c"/><rect x="0" y="0" width="1" height="1" fill="#c99474"/><rect x="1" y="0" width="1" height="1" fill="#bf8868"/><rect x="2" y="0" width="1" height="1" fill="#e0b496"/><rect x="5" y="0" width="1" height="1" fill="#c99474"/><rect x="0" y="1" width="1" height="1" fill="#c99474"/><rect x="2" y="1" width="1" height="1" fill="#e0b496"/><rect x="3" y="1" width="1" height="1" fill="#c99474"/><rect x="5" y="1" width="1" height="1" fill="#bf8868"/><rect x="1" y="2" width="1" height="1" fill="#bf8868"/><rect x="3" y="2" width="1" height="1" fill="#c99474"/><rect x="0" y="3" width="1" height="1" fill="#bf8868"/><rect x="3" y="3" width="1" height="1" fill="#c99474"/><rect x="0" y="4" width="1" height="1" fill="#e0b496"/><rect x="1" y="4" width="1" height="1" fill="#c99474"/><rect x="3" y="4" width="1" height="1" fill="#bf8868"/></pattern>
</defs>
<polygon points="17.5,524.0 99.5,524.0 120.5,487.0 38.5,487.0" fill="url(#itot)" opacity="1.0" />
<polygon points="17.5,524.0 99.5,524.0 99.5,531.3 17.5,531.3" fill="url(#itof)" opacity="1.0"/>
<polygon points="99.5,524.0 120.5,487.0 120.5,494.3 99.5,531.3" fill="#c4d4e2" opacity="1.0"/>
<polygon points="64.0,524 99.5,524 120.5,487 85.0,487" fill="#c4e2f8" opacity="0.9"/>
<polygon points="58.0,524 64.0,524 85.0,487 79.0,487" fill="#e8f4fc" opacity="0.95"/>
<polygon points="25.0,512 70.0,512 72.0,509 27.0,509" fill="#90c0e6" opacity="0.6"/>
<polygon points="17.5,503.2 99.5,503.2 120.5,466.2 38.5,466.2" fill="#5088d2" opacity="1.0" />
<polygon points="17.5,503.2 99.5,503.2 99.5,505.2 17.5,505.2" fill="#3a6cb4" opacity="1.0"/>
<polygon points="99.5,503.2 120.5,466.2 120.5,468.2 99.5,505.2" fill="#4076c0" opacity="1.0"/>
<polygon points="60.0,503 99.5,503 118.5,470 79.0,470" fill="#6c9ce0" opacity="0.5"/>
<polygon points="17.5,477.3 99.5,477.3 120.5,440.3 38.5,440.3" fill="url(#perov)" opacity="1.0" />
<polygon points="17.5,477.3 99.5,477.3 99.5,491.9 17.5,491.9" fill="url(#perov)" opacity="1.0"/>
<polygon points="99.5,477.3 120.5,440.3 120.5,454.9 99.5,491.9" fill="url(#perov)" opacity="1.0"/>
<polygon points="17.5,477.3 99.5,477.3 99.5,491.9 17.5,491.9" fill="#c48a66" opacity="0.35"/>
<polygon points="17.5,476.3 99.5,476.3 120.5,439.3 38.5,439.3" fill="#f07a3a" opacity="1.0" />
<polygon points="17.5,476.3 99.5,476.3 99.5,477.8 17.5,477.8" fill="#d85e20" opacity="1.0"/>
<polygon points="99.5,476.3 120.5,439.3 120.5,440.8 99.5,477.8" fill="#e06a2c" opacity="1.0"/>
<polygon points="17.5,464.6 99.5,464.6 120.5,427.6 38.5,427.6" fill="#f9cad1" opacity="0.92" />
<polygon points="17.5,464.6 99.5,464.6 99.5,465.6 17.5,465.6" fill="#f2b6c0" opacity="0.92"/>
<polygon points="99.5,464.6 120.5,427.6 120.5,428.6 99.5,465.6" fill="#f6c2ca" opacity="0.92"/>
<polygon points="36.0,440.5 53.5,440.5 59.2,430.5 41.7,430.5" fill="#efc084" stroke="#e0a868" stroke-width="0.4"/>
<polygon points="55.5,440.5 73.0,440.5 78.7,430.5 61.2,430.5" fill="#efc084" stroke="#e0a868" stroke-width="0.4"/>
<polygon points="78.5,440.5 96.0,440.5 101.7,430.5 84.2,430.5" fill="#efc084" stroke="#e0a868" stroke-width="0.4"/>
<polygon points="97.0,440.5 114.5,440.5 120.2,430.5 102.7,430.5" fill="#efc084" stroke="#e0a868" stroke-width="0.4"/>
<polygon points="27.0,453.3 44.5,453.3 50.7,442.3 33.2,442.3" fill="#efc084" stroke="#e0a868" stroke-width="0.4"/>
<polygon points="45.5,453.3 63.0,453.3 69.2,442.3 51.7,442.3" fill="#efc084" stroke="#e0a868" stroke-width="0.4"/>
<polygon points="68.0,453.3 85.5,453.3 91.7,442.3 74.2,442.3" fill="#efc084" stroke="#e0a868" stroke-width="0.4"/>
<polygon points="88.0,453.3 105.5,453.3 111.7,442.3 94.2,442.3" fill="#efc084" stroke="#e0a868" stroke-width="0.4"/>
<text x="33.30" y="450.00" font-size="6.3" font-weight="normal" fill="#fff" text-anchor="start" font-family="Liberation Sans" >Au</text>
<text x="31.80" y="461.70" font-size="6.3" font-weight="normal" fill="#fff" text-anchor="start" font-family="Liberation Sans" textLength="10" lengthAdjust="spacingAndGlyphs">BCP</text>
<text x="28.20" y="474.00" font-size="6.3" font-weight="normal" fill="#fff" text-anchor="start" font-family="Liberation Sans" textLength="16" lengthAdjust="spacingAndGlyphs">PCBM</text>
<text x="23.10" y="489.00" font-size="6.0" font-weight="normal" fill="#fff" text-anchor="start" font-family="Liberation Sans" textLength="60" lengthAdjust="spacingAndGlyphs">PEROVSKITE-POLYMER</text>
<text x="29.00" y="501.40" font-size="6.3" font-weight="normal" fill="#fff" text-anchor="start" font-family="Liberation Sans" textLength="13" lengthAdjust="spacingAndGlyphs">PTAA</text>
<text x="31.90" y="519.60" font-size="6.3" font-weight="normal" fill="#fff" text-anchor="start" font-family="Liberation Sans" textLength="8" lengthAdjust="spacingAndGlyphs">ITO</text>
<line x1="111.70" y1="456.00" x2="156.00" y2="414.80" stroke="#222" stroke-width="1.1" stroke-dasharray="3,1.8"/>
<line x1="111.00" y1="470.00" x2="155.00" y2="520.20" stroke="#222" stroke-width="1.1" stroke-dasharray="3,1.8"/>
<rect x="152.5" y="407.8" width="153" height="117.8" rx="17" ry="17" fill="#fff" stroke="#f2a878" stroke-width="1"/>
<path d="M169,421 L166,421 L166,488.4 L169,488.4" stroke="#666" stroke-width="0.7" fill="none" />
<path d="M223,421 L226,421 L226,488.4 L223,488.4" stroke="#666" stroke-width="0.7" fill="none" />
<text x="227.50" y="489.50" font-size="4.5" font-weight="normal" fill="#333" text-anchor="start" font-family="Liberation Sans" >n</text>
<path d="M173.4,458.4 L178.1,450.9 M193.1,460.3 L188.4,466.9 L177.2,465.4 M178.1,450.9 L188.4,450.9" stroke="#222" stroke-width="0.7" fill="none" />
<path d="M188.4,450.9 L193.1,460.3" stroke="#222" stroke-width="0.7" fill="none" />
<path d="M177.2,465.4 L173.4,458.4 L173.4,458.4" stroke="#222" stroke-width="0.7" fill="none" />
<path d="M173.4,458.4 L177.2,465.4 L188.4,466.9" stroke="#222" stroke-width="1.6" fill="none" />
<path d="M166,459.4 L173.4,458.4" stroke="#222" stroke-width="0.7" fill="none" />
<path d="M178.1,450.9 L179,442.5 L175,439" stroke="#222" stroke-width="0.7" fill="none" />
<path d="M188.4,466.9 L187.5,471" stroke="#222" stroke-width="0.7" fill="none" />
<path d="M193.1,460.3 L199.5,458" stroke="#222" stroke-width="0.7" fill="none" />
<text x="184.50" y="452.50" font-size="4.6" font-weight="normal" fill="#222" text-anchor="start" font-family="Liberation Sans" >O</text>
<text x="166.00" y="438.80" font-size="4.8" font-weight="normal" fill="#3a3ad0" text-anchor="start" font-family="Liberation Sans" >RO</text>
<text x="178.00" y="458.80" font-size="4.8" font-weight="normal" fill="#3a3ad0" text-anchor="start" font-family="Liberation Sans" >OR</text>
<text x="182.50" y="476.50" font-size="4.8" font-weight="normal" fill="#3a3ad0" text-anchor="start" font-family="Liberation Sans" >RO</text>
<text x="200.00" y="459.00" font-size="4.6" font-weight="normal" fill="#222" text-anchor="start" font-family="Liberation Sans" >O</text>
<path d="M208.1,442.5 L218.4,444.4 L222.2,452.8 L216.6,459.4 L206.3,457.5 L203.4,450.0 Z" stroke="#222" stroke-width="0.7" fill="none" />
<path d="M203.4,450.0 L206.3,457.5 L216.6,459.4" stroke="#222" stroke-width="1.6" fill="none" />
<path d="M203.4,452 L202.5,456" stroke="#222" stroke-width="0.7" fill="none" />
<path d="M208.1,442.5 L207.2,435 L203,431" stroke="#222" stroke-width="0.7" fill="none" />
<path d="M216.6,459.4 L215.5,463" stroke="#222" stroke-width="0.7" fill="none" />
<path d="M222.2,452.8 L222.2,458.5 M224,460.3 L227.8,460.3" stroke="#222" stroke-width="0.7" fill="none" />
<text x="216.50" y="446.00" font-size="4.6" font-weight="normal" fill="#222" text-anchor="start" font-family="Liberation Sans" >O</text>
<text x="219.50" y="462.00" font-size="4.6" font-weight="normal" fill="#222" text-anchor="start" font-family="Liberation Sans" >O</text>
<text x="195.50" y="430.30" font-size="4.8" font-weight="normal" fill="#3a3ad0" text-anchor="start" font-family="Liberation Sans" >RO</text>
<text x="207.00" y="450.50" font-size="4.8" font-weight="normal" fill="#3a3ad0" text-anchor="start" font-family="Liberation Sans" >OR</text>
<text x="211.50" y="468.00" font-size="4.8" font-weight="normal" fill="#3a3ad0" text-anchor="start" font-family="Liberation Sans" >RO</text>
<text x="176.30" y="490.00" font-size="4.6" font-weight="normal" fill="#333" text-anchor="start" font-family="Liberation Sans" >R= </text>
<text x="183.50" y="490.00" font-size="4.6" font-weight="normal" fill="#3a3ad0" text-anchor="start" font-family="Liberation Sans" >H</text>
<text x="187.50" y="490.00" font-size="4.6" font-weight="normal" fill="#333" text-anchor="start" font-family="Liberation Sans" >or</text>
<text x="192.30" y="490.00" font-size="4.6" font-weight="normal" fill="#3a3ad0" text-anchor="start" font-family="Liberation Sans" >-CH<tspan font-size="3" dy="1">2</tspan><tspan dy="-1">CH</tspan><tspan font-size="3" dy="1">2</tspan><tspan dy="-1">OH</tspan></text>
<polygon points="254.2,419.7 266.7,434.2 254.2,448.7 241.7,434.2" fill="#c4b0ea"/>
<polygon points="241.7,434.2 254.2,419.7 252.9,436.4" fill="#d0c0f0"/>
<polygon points="254.2,419.7 266.7,434.2 252.9,436.4" fill="#dcd0f4"/>
<polygon points="266.7,434.2 254.2,448.7 252.9,436.4" fill="#b49ce0"/>
<circle cx="254.2" cy="419.7" r="0.9" fill="#a01890"/>
<circle cx="266.7" cy="434.2" r="0.9" fill="#a01890"/>
<circle cx="254.2" cy="448.7" r="0.9" fill="#a01890"/>
<circle cx="241.7" cy="434.2" r="0.9" fill="#a01890"/>
<polygon points="279.0,419.7 291.5,434.2 279.0,448.7 266.5,434.2" fill="#c4b0ea"/>
<polygon points="266.5,434.2 279.0,419.7 277.8,436.4" fill="#d0c0f0"/>
<polygon points="279.0,419.7 291.5,434.2 277.8,436.4" fill="#dcd0f4"/>
<polygon points="291.5,434.2 279.0,448.7 277.8,436.4" fill="#b49ce0"/>
<circle cx="279.0" cy="419.7" r="0.9" fill="#a01890"/>
<circle cx="291.5" cy="434.2" r="0.9" fill="#a01890"/>
<circle cx="279.0" cy="448.7" r="0.9" fill="#a01890"/>
<circle cx="266.5" cy="434.2" r="0.9" fill="#a01890"/>
<polygon points="254.2,450.7 266.7,465.2 254.2,479.7 241.7,465.2" fill="#c4b0ea"/>
<polygon points="241.7,465.2 254.2,450.7 252.9,467.4" fill="#d0c0f0"/>
<polygon points="254.2,450.7 266.7,465.2 252.9,467.4" fill="#dcd0f4"/>
<polygon points="266.7,465.2 254.2,479.7 252.9,467.4" fill="#b49ce0"/>
<circle cx="254.2" cy="450.7" r="0.9" fill="#a01890"/>
<circle cx="266.7" cy="465.2" r="0.9" fill="#a01890"/>
<circle cx="254.2" cy="479.7" r="0.9" fill="#a01890"/>
<circle cx="241.7" cy="465.2" r="0.9" fill="#a01890"/>
<polygon points="279.0,450.7 291.5,465.2 279.0,479.7 266.5,465.2" fill="#c4b0ea"/>
<polygon points="266.5,465.2 279.0,450.7 277.8,467.4" fill="#d0c0f0"/>
<polygon points="279.0,450.7 291.5,465.2 277.8,467.4" fill="#dcd0f4"/>
<polygon points="291.5,465.2 279.0,479.7 277.8,467.4" fill="#b49ce0"/>
<circle cx="279.0" cy="450.7" r="0.9" fill="#a01890"/>
<circle cx="291.5" cy="465.2" r="0.9" fill="#a01890"/>
<circle cx="279.0" cy="479.7" r="0.9" fill="#a01890"/>
<circle cx="266.5" cy="465.2" r="0.9" fill="#a01890"/>
<polygon points="248.0,423.8 260.8,438.6 248.0,453.4 235.2,438.6" fill="#a884dc"/>
<polygon points="235.2,438.6 248.0,423.8 246.7,440.8" fill="#9c76d6"/>
<polygon points="248.0,423.8 260.8,438.6 246.7,440.8" fill="#b898e6"/>
<polygon points="260.8,438.6 248.0,453.4 246.7,440.8" fill="#9068cc"/>
<circle cx="248.0" cy="423.8" r="0.9" fill="#a01890"/>
<circle cx="260.8" cy="438.6" r="0.9" fill="#a01890"/>
<circle cx="248.0" cy="453.4" r="0.9" fill="#a01890"/>
<circle cx="235.2" cy="438.6" r="0.9" fill="#a01890"/>
<polygon points="272.8,423.8 285.6,438.6 272.8,453.4 260.0,438.6" fill="#a884dc"/>
<polygon points="260.0,438.6 272.8,423.8 271.5,440.8" fill="#9c76d6"/>
<polygon points="272.8,423.8 285.6,438.6 271.5,440.8" fill="#b898e6"/>
<polygon points="285.6,438.6 272.8,453.4 271.5,440.8" fill="#9068cc"/>
<circle cx="272.8" cy="423.8" r="0.9" fill="#a01890"/>
<circle cx="285.6" cy="438.6" r="0.9" fill="#a01890"/>
<circle cx="272.8" cy="453.4" r="0.9" fill="#a01890"/>
<circle cx="260.0" cy="438.6" r="0.9" fill="#a01890"/>
<polygon points="248.0,454.8 260.8,469.6 248.0,484.4 235.2,469.6" fill="#a884dc"/>
<polygon points="235.2,469.6 248.0,454.8 246.7,471.8" fill="#9c76d6"/>
<polygon points="248.0,454.8 260.8,469.6 246.7,471.8" fill="#b898e6"/>
<polygon points="260.8,469.6 248.0,484.4 246.7,471.8" fill="#9068cc"/>
<circle cx="248.0" cy="454.8" r="0.9" fill="#a01890"/>
<circle cx="260.8" cy="469.6" r="0.9" fill="#a01890"/>
<circle cx="248.0" cy="484.4" r="0.9" fill="#a01890"/>
<circle cx="235.2" cy="469.6" r="0.9" fill="#a01890"/>
<polygon points="272.8,454.8 285.6,469.6 272.8,484.4 260.0,469.6" fill="#a884dc"/>
<polygon points="260.0,469.6 272.8,454.8 271.5,471.8" fill="#9c76d6"/>
<polygon points="272.8,454.8 285.6,469.6 271.5,471.8" fill="#b898e6"/>
<polygon points="285.6,469.6 272.8,484.4 271.5,471.8" fill="#9068cc"/>
<circle cx="272.8" cy="454.8" r="0.9" fill="#a01890"/>
<circle cx="285.6" cy="469.6" r="0.9" fill="#a01890"/>
<circle cx="272.8" cy="484.4" r="0.9" fill="#a01890"/>
<circle cx="260.0" cy="469.6" r="0.9" fill="#a01890"/>
<line x1="260.20" y1="424.30" x2="264.20" y2="428.30" stroke="#6a4a3a" stroke-width="0.6" />
<line x1="260.20" y1="428.30" x2="264.20" y2="424.30" stroke="#6a4a3a" stroke-width="0.6" />
<circle cx="261.2" cy="425.3" r="0.8" fill="#c02020"/>
<circle cx="263.2" cy="427.3" r="0.7" fill="#333"/>
<line x1="237.20" y1="450.80" x2="241.20" y2="454.80" stroke="#6a4a3a" stroke-width="0.6" />
<line x1="237.20" y1="454.80" x2="241.20" y2="450.80" stroke="#6a4a3a" stroke-width="0.6" />
<circle cx="238.2" cy="451.8" r="0.8" fill="#c02020"/>
<circle cx="240.2" cy="453.8" r="0.7" fill="#333"/>
<line x1="261.00" y1="450.80" x2="265.00" y2="454.80" stroke="#6a4a3a" stroke-width="0.6" />
<line x1="261.00" y1="454.80" x2="265.00" y2="450.80" stroke="#6a4a3a" stroke-width="0.6" />
<circle cx="262.0" cy="451.8" r="0.8" fill="#c02020"/>
<circle cx="264.0" cy="453.8" r="0.7" fill="#333"/>
<line x1="287.60" y1="447.30" x2="291.60" y2="451.30" stroke="#6a4a3a" stroke-width="0.6" />
<line x1="287.60" y1="451.30" x2="291.60" y2="447.30" stroke="#6a4a3a" stroke-width="0.6" />
<circle cx="288.6" cy="448.3" r="0.8" fill="#c02020"/>
<circle cx="290.6" cy="450.3" r="0.7" fill="#333"/>
<line x1="260.20" y1="477.40" x2="264.20" y2="481.40" stroke="#6a4a3a" stroke-width="0.6" />
<line x1="260.20" y1="481.40" x2="264.20" y2="477.40" stroke="#6a4a3a" stroke-width="0.6" />
<circle cx="261.2" cy="478.4" r="0.8" fill="#c02020"/>
<circle cx="263.2" cy="480.4" r="0.7" fill="#333"/>
<circle cx="230.8" cy="493.4" r="2" fill="#a01890"/>
<text x="234.60" y="495.60" font-size="6" font-weight="bold" fill="#444" text-anchor="start" font-family="Liberation Sans" >I<tspan font-size="3.5" dy="-2.2">-</tspan></text>
<circle cx="241.3" cy="493.4" r="1.6" fill="#c8b0e8" stroke="#9a86c0" stroke-width="0.5"/>
<text x="244.80" y="495.80" font-size="6.6" font-weight="bold" fill="#333" text-anchor="start" font-family="Liberation Sans" textLength="13.5" lengthAdjust="spacingAndGlyphs">Pb<tspan font-size="4" dy="-2.4">2-</tspan></text>
<line x1="261.50" y1="491.20" x2="266.50" y2="495.80" stroke="#8a6a4a" stroke-width="0.6" />
<line x1="261.50" y1="495.80" x2="266.50" y2="491.20" stroke="#8a6a4a" stroke-width="0.6" />
<circle cx="262.6" cy="492.3" r="0.9" fill="#d04040"/>
<circle cx="265.4" cy="494.7" r="0.8" fill="#e0a0a0"/>
<text x="272.20" y="496.00" font-size="6.4" font-weight="bold" fill="#222" text-anchor="start" font-family="Liberation Sans" textLength="27" lengthAdjust="spacingAndGlyphs">CH<tspan font-size="4" dy="1.3">3</tspan><tspan dy="-1.3">NH</tspan><tspan font-size="4" dy="1.3">3</tspan><tspan font-size="4" dy="-3.8">+</tspan></text>
<text x="231.80" y="514.20" font-size="9.6" font-weight="bold" fill="#111" text-anchor="middle" font-family="Liberation Sans" textLength="115" lengthAdjust="spacingAndGlyphs">2−Hydroxyethyl cellulose</text>
<text x="3.60" y="398.00" font-size="17.3" font-weight="bold" fill="#111" text-anchor="start" font-family="Liberation Sans" >(g)</text>
<rect x="331.50" y="409.40" width="144.30" height="116.20" fill="none" stroke="#444" stroke-width="0.8" />
<line x1="331.50" y1="519.30" x2="329.50" y2="519.30" stroke="#333" stroke-width="0.7" />
<text x="328.00" y="521.50" font-size="6.3" font-weight="bold" fill="#222" text-anchor="end" font-family="Liberation Sans" >5</text>
<line x1="331.50" y1="504.70" x2="329.50" y2="504.70" stroke="#333" stroke-width="0.7" />
<text x="328.00" y="506.90" font-size="6.3" font-weight="bold" fill="#222" text-anchor="end" font-family="Liberation Sans" >10</text>
<line x1="331.50" y1="490.10" x2="329.50" y2="490.10" stroke="#333" stroke-width="0.7" />
<text x="328.00" y="492.30" font-size="6.3" font-weight="bold" fill="#222" text-anchor="end" font-family="Liberation Sans" >15</text>
<line x1="331.50" y1="475.50" x2="329.50" y2="475.50" stroke="#333" stroke-width="0.7" />
<text x="328.00" y="477.70" font-size="6.3" font-weight="bold" fill="#222" text-anchor="end" font-family="Liberation Sans" >20</text>
<line x1="331.50" y1="460.90" x2="329.50" y2="460.90" stroke="#333" stroke-width="0.7" />
<text x="328.00" y="463.10" font-size="6.3" font-weight="bold" fill="#222" text-anchor="end" font-family="Liberation Sans" >25</text>
<line x1="331.50" y1="446.30" x2="329.50" y2="446.30" stroke="#333" stroke-width="0.7" />
<text x="328.00" y="448.50" font-size="6.3" font-weight="bold" fill="#222" text-anchor="end" font-family="Liberation Sans" >30</text>
<line x1="331.50" y1="431.70" x2="329.50" y2="431.70" stroke="#333" stroke-width="0.7" />
<text x="328.00" y="433.90" font-size="6.3" font-weight="bold" fill="#222" text-anchor="end" font-family="Liberation Sans" >35</text>
<line x1="331.50" y1="417.10" x2="329.50" y2="417.10" stroke="#333" stroke-width="0.7" />
<text x="328.00" y="419.30" font-size="6.3" font-weight="bold" fill="#222" text-anchor="end" font-family="Liberation Sans" >40</text>
<line x1="331.60" y1="525.60" x2="331.60" y2="527.60" stroke="#333" stroke-width="0.7" />
<text x="331.60" y="533.80" font-size="6.3" font-weight="bold" fill="#222" text-anchor="middle" font-family="Liberation Sans" >4</text>
<line x1="353.66" y1="525.60" x2="353.66" y2="527.60" stroke="#333" stroke-width="0.7" />
<text x="353.66" y="533.80" font-size="6.3" font-weight="bold" fill="#222" text-anchor="middle" font-family="Liberation Sans" >6</text>
<line x1="375.72" y1="525.60" x2="375.72" y2="527.60" stroke="#333" stroke-width="0.7" />
<text x="375.72" y="533.80" font-size="6.3" font-weight="bold" fill="#222" text-anchor="middle" font-family="Liberation Sans" >8</text>
<line x1="397.78" y1="525.60" x2="397.78" y2="527.60" stroke="#333" stroke-width="0.7" />
<text x="397.78" y="533.80" font-size="6.3" font-weight="bold" fill="#222" text-anchor="middle" font-family="Liberation Sans" >10</text>
<line x1="419.84" y1="525.60" x2="419.84" y2="527.60" stroke="#333" stroke-width="0.7" />
<text x="419.84" y="533.80" font-size="6.3" font-weight="bold" fill="#222" text-anchor="middle" font-family="Liberation Sans" >12</text>
<line x1="441.90" y1="525.60" x2="441.90" y2="527.60" stroke="#333" stroke-width="0.7" />
<text x="441.90" y="533.80" font-size="6.3" font-weight="bold" fill="#222" text-anchor="middle" font-family="Liberation Sans" >14</text>
<line x1="463.96" y1="525.60" x2="463.96" y2="527.60" stroke="#333" stroke-width="0.7" />
<text x="463.96" y="533.80" font-size="6.3" font-weight="bold" fill="#222" text-anchor="middle" font-family="Liberation Sans" >16</text>
<text x="396.30" y="543.40" font-size="7.6" font-weight="bold" fill="#222" text-anchor="middle" font-family="Liberation Sans" textLength="26.5" lengthAdjust="spacingAndGlyphs">PCE (%)</text>
<text x="0.00" y="0.00" font-size="7.6" font-weight="bold" fill="#222" text-anchor="middle" font-family="Liberation Sans" transform="translate(317.6,468.7) rotate(-90)" textLength="23.5" lengthAdjust="spacingAndGlyphs">AVT (%)</text>
<polygon points="345.4,439.7 348.5,443.3 345.4,446.9 342.3,443.3" fill="#fff" stroke="#ff2a2a" stroke-width="0.8"/>
<polygon points="345.4,439.7 348.5,443.3 345.4,446.9" fill="#ff2a2a"/>
<polygon points="380.4,447.0 383.5,450.6 380.4,454.2 377.3,450.6" fill="#fff" stroke="#8a4848" stroke-width="0.8"/>
<polygon points="380.4,447.0 383.5,450.6 380.4,454.2" fill="#8a4848"/>
<polygon points="391.9,448.4 395.0,452.0 391.9,455.6 388.8,452.0" fill="#fff" stroke="#8a8a10" stroke-width="0.8"/>
<polygon points="391.9,448.4 395.0,452.0 391.9,455.6" fill="#8a8a10"/>
<polygon points="403.6,455.8 406.7,459.4 403.6,463.0 400.5,459.4" fill="#fff" stroke="#10ccd8" stroke-width="0.8"/>
<polygon points="403.6,455.8 406.7,459.4 403.6,463.0" fill="#10ccd8"/>
<polygon points="405.4,420.4 408.5,424.0 405.4,427.6 402.3,424.0" fill="#fff" stroke="#c070f0" stroke-width="0.8"/>
<polygon points="405.4,420.4 408.5,424.0 405.4,427.6" fill="#c070f0"/>
<polygon points="446.2,418.9 449.4,422.5 446.2,426.1 443.1,422.5" fill="#fff" stroke="#3a98e6" stroke-width="0.8"/>
<polygon points="446.2,418.9 449.4,422.5 446.2,426.1" fill="#3a98e6"/>
<polygon points="381.8,483.8 384.9,487.4 381.8,491.0 378.7,487.4" fill="#fff" stroke="#ff6a10" stroke-width="0.8"/>
<polygon points="381.8,483.8 384.9,487.4 381.8,491.0" fill="#ff6a10"/>
<polygon points="371.7,501.4 374.8,505.0 371.7,508.6 368.6,505.0" fill="#fff" stroke="#10b060" stroke-width="0.8"/>
<polygon points="371.7,501.4 374.8,505.0 371.7,508.6" fill="#10b060"/>
<polygon points="459.0,469.7 462.1,473.3 459.0,476.9 455.9,473.3" fill="#fff" stroke="#3cc020" stroke-width="0.8"/>
<polygon points="459.0,469.7 462.1,473.3 459.0,476.9" fill="#3cc020"/>
<polygon points="430.0,477.6 433.1,481.2 430.0,484.8 426.9,481.2" fill="#fff" stroke="#1466f0" stroke-width="0.8"/>
<polygon points="430.0,477.6 433.1,481.2 430.0,484.8" fill="#1466f0"/>
<polygon points="422.7,489.6 425.8,493.2 422.7,496.8 419.6,493.2" fill="#fff" stroke="#404040" stroke-width="0.8"/>
<polygon points="422.7,489.6 425.8,493.2 422.7,496.8" fill="#404040"/>
<polygon points="434.0,494.9 437.1,498.5 434.0,502.1 430.9,498.5" fill="#fff" stroke="#eea010" stroke-width="0.8"/>
<polygon points="434.0,494.9 437.1,498.5 434.0,502.1" fill="#eea010"/>
<text x="344.40" y="387.80" font-size="17.3" font-weight="bold" fill="#111" text-anchor="start" font-family="Liberation Sans" >(h)</text>
</svg>
</body></html>
